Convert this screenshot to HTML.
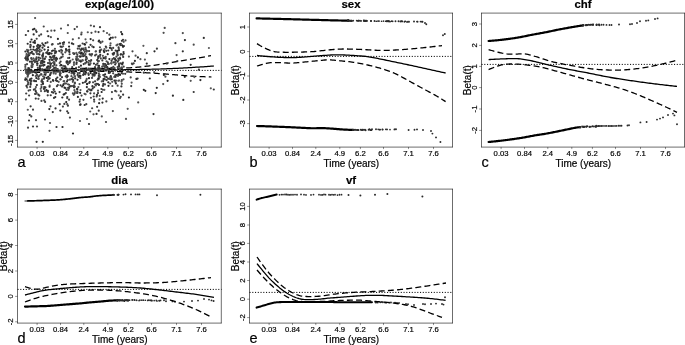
<!DOCTYPE html>
<html lang="en">
<head>
<meta charset="utf-8">
<title>Beta(t) plots</title>
<style>
html,body{margin:0;padding:0;background:#fff;}
body{width:685px;height:345px;overflow:hidden;font-family:"Liberation Sans",sans-serif;}
svg{display:block;transform:translateZ(0);will-change:transform;}
svg text{font-family:"Liberation Sans",sans-serif;fill:#000;stroke:#000;stroke-width:.18px;}
.box{fill:none;stroke:#000;stroke-width:.58;}
.tick{fill:none;stroke:#000;stroke-width:.42;}
.title{font-size:11.4px;font-weight:bold;text-anchor:middle;fill:#000;}
.tl{font-size:7.7px;text-anchor:middle;}
.al{font-size:10px;text-anchor:middle;}
.yl{font-size:10px;}
.lt{font-size:14.5px;text-anchor:start;}
.sol{fill:none;stroke:#000;stroke-width:1.3;stroke-linecap:butt;stroke-linejoin:round;}
.dsh{fill:none;stroke:#000;stroke-width:1.3;stroke-dasharray:6 3.2;stroke-linejoin:round;}
#pa .sol,#pa .dsh{stroke-width:1.25;}
.dot{fill:none;stroke:#000;stroke-width:1;stroke-dasharray:1.1 1.65;}
.band{fill:none;stroke:#000;stroke-linecap:round;stroke-linejoin:round;}
.pt{fill:#2a2a2a;}
</style>
</head>
<body>
<svg width="685" height="345" viewBox="0 0 685 345">
<rect x="0" y="0" width="685" height="345" fill="#fff"/>
<g id="pa">
<path class="dot" d="M17.5 70.4 H221.5"/>
<path class="sol" d="M25 71.4 L26.5 71.33 L28 71.26 L29.5 71.19 L31 71.13 L32.5 71.07 L34 71.01 L35.5 70.95 L37 70.9 L38.5 70.85 L40 70.8 L41.5 70.75 L43 70.71 L44.5 70.67 L46 70.63 L47.5 70.59 L49 70.55 L50.5 70.51 L52 70.47 L53.5 70.44 L55 70.4 L56.5 70.37 L58 70.34 L59.5 70.31 L61 70.28 L62.5 70.25 L64 70.22 L65.5 70.19 L67 70.16 L68.5 70.13 L70 70.11 L71.5 70.08 L73 70.05 L74.5 70.03 L76 70 L77.5 69.98 L79 69.96 L80.5 69.94 L82 69.93 L83.5 69.91 L85 69.9 L86.5 69.89 L88 69.88 L89.5 69.87 L91 69.86 L92.5 69.85 L94 69.84 L95.5 69.83 L97 69.82 L98.5 69.81 L100 69.8 L101.5 69.79 L103 69.78 L104.5 69.77 L106 69.76 L107.5 69.75 L109 69.74 L110.5 69.73 L112 69.72 L113.5 69.71 L115 69.7 L116.5 69.69 L118 69.68 L119.5 69.67 L121 69.66 L122.5 69.65 L124 69.64 L125.5 69.63 L127 69.62 L128.5 69.61 L130 69.6 L131.5 69.59 L133 69.58 L134.5 69.56 L136 69.54 L137.5 69.52 L139 69.5 L140.5 69.47 L142 69.45 L143.5 69.42 L145 69.39 L146.5 69.36 L148 69.32 L149.5 69.29 L151 69.25 L152.5 69.21 L154 69.17 L155.5 69.13 L157 69.09 L158.5 69.05 L160 69 L161.5 68.95 L163 68.9 L164.5 68.85 L166 68.79 L167.5 68.73 L169 68.67 L170.5 68.61 L172 68.54 L173.5 68.47 L175 68.4 L176.5 68.33 L178 68.26 L179.5 68.18 L181 68.1 L182.5 68.02 L184 67.94 L185.5 67.86 L187 67.77 L188.5 67.69 L190 67.6 L191.5 67.51 L193 67.42 L194.5 67.33 L196 67.24 L197.5 67.15 L199 67.05 L200.5 66.95 L202 66.86 L203.5 66.76 L205 66.65 L206.5 66.55 L208 66.44 L209.5 66.34 L211 66.23 L212.5 66.11 L214 66"/>
<path class="dsh" d="M25 69.9 L26.5 69.85 L28 69.8 L29.5 69.75 L31 69.7 L32.5 69.65 L34 69.6 L35.5 69.55 L37 69.5 L38.5 69.45 L40 69.4 L41.5 69.35 L43 69.3 L44.5 69.26 L46 69.21 L47.5 69.16 L49 69.12 L50.5 69.07 L52 69.03 L53.5 68.98 L55 68.94 L56.5 68.9 L58 68.86 L59.5 68.81 L61 68.77 L62.5 68.74 L64 68.7 L65.5 68.67 L67 68.64 L68.5 68.61 L70 68.58 L71.5 68.56 L73 68.54 L74.5 68.52 L76 68.5 L77.5 68.48 L79 68.46 L80.5 68.44 L82 68.43 L83.5 68.41 L85 68.4 L86.5 68.39 L88 68.38 L89.5 68.38 L91 68.38 L92.5 68.39 L94 68.39 L95.5 68.4 L97 68.4 L98.5 68.4 L100 68.4 L101.5 68.39 L103 68.39 L104.5 68.38 L106 68.37 L107.5 68.35 L109 68.34 L110.5 68.32 L112 68.3 L113.5 68.28 L115 68.25 L116.5 68.22 L118 68.19 L119.5 68.16 L121 68.12 L122.5 68.08 L124 68.03 L125.5 67.98 L127 67.92 L128.5 67.86 L130 67.8 L131.5 67.72 L133 67.63 L134.5 67.51 L136 67.38 L137.5 67.24 L139 67.09 L140.5 66.93 L142 66.75 L143.5 66.58 L145 66.4 L146.5 66.22 L148 66.04 L149.5 65.86 L151 65.68 L152.5 65.49 L154 65.29 L155.5 65.09 L157 64.87 L158.5 64.64 L160 64.4 L161.5 64.15 L163 63.9 L164.5 63.64 L166 63.38 L167.5 63.13 L169 62.87 L170.5 62.61 L172 62.36 L173.5 62.1 L175 61.85 L176.5 61.59 L178 61.34 L179.5 61.08 L181 60.83 L182.5 60.58 L184 60.33 L185.5 60.09 L187 59.84 L188.5 59.59 L190 59.34 L191.5 59.09 L193 58.84 L194.5 58.58 L196 58.33 L197.5 58.07 L199 57.82 L200.5 57.56 L202 57.3 L203.5 57.03 L205 56.77 L206.5 56.5 L208 56.24 L209.5 55.97 L211 55.7"/>
<path class="dsh" d="M25 73 L26.5 72.91 L28.01 72.83 L29.51 72.75 L31.02 72.67 L32.52 72.6 L34.02 72.53 L35.53 72.46 L37.03 72.4 L38.54 72.35 L40.04 72.3 L41.54 72.25 L43.05 72.21 L44.55 72.16 L46.06 72.12 L47.56 72.08 L49.06 72.04 L50.57 72 L52.07 71.97 L53.58 71.93 L55.08 71.9 L56.58 71.87 L58.09 71.84 L59.59 71.81 L61.1 71.78 L62.6 71.75 L64.1 71.73 L65.61 71.7 L67.11 71.67 L68.62 71.65 L70.12 71.62 L71.62 71.6 L73.13 71.57 L74.63 71.55 L76.14 71.53 L77.64 71.51 L79.15 71.48 L80.65 71.46 L82.15 71.44 L83.66 71.42 L85.16 71.4 L86.67 71.38 L88.17 71.36 L89.67 71.35 L91.18 71.33 L92.68 71.32 L94.19 71.31 L95.69 71.31 L97.19 71.3 L98.7 71.3 L100.2 71.3 L101.71 71.3 L103.21 71.31 L104.71 71.32 L106.22 71.34 L107.72 71.36 L109.23 71.38 L110.73 71.41 L112.23 71.44 L113.74 71.47 L115.24 71.51 L116.75 71.55 L118.25 71.59 L119.75 71.64 L121.26 71.69 L122.76 71.73 L124.27 71.79 L125.77 71.84 L127.27 71.9 L128.78 71.95 L130.28 72.01 L131.79 72.07 L133.29 72.13 L134.79 72.2 L136.3 72.27 L137.8 72.34 L139.31 72.41 L140.81 72.48 L142.31 72.56 L143.82 72.64 L145.32 72.72 L146.83 72.8 L148.33 72.88 L149.83 72.97 L151.34 73.06 L152.84 73.15 L154.35 73.24 L155.85 73.33 L157.35 73.43 L158.86 73.53 L160.36 73.62 L161.87 73.73 L163.37 73.84 L164.88 73.95 L166.38 74.07 L167.88 74.19 L169.39 74.32 L170.89 74.45 L172.4 74.58 L173.9 74.71 L175.4 74.84 L176.91 74.97 L178.41 75.1 L179.92 75.23 L181.42 75.35 L182.92 75.48 L184.43 75.6 L185.93 75.71 L187.44 75.82 L188.94 75.93 L190.44 76.03 L191.95 76.12 L193.45 76.21 L194.96 76.3 L196.46 76.38 L197.96 76.46 L199.47 76.53 L200.97 76.61 L202.48 76.67 L203.98 76.74 L205.48 76.8 L206.99 76.85 L208.49 76.9 L210 76.95 L211.5 77"/>
<circle cx="85.16" cy="74.35" r="1.1" fill="rgb(61,61,61)"/>
<circle cx="113.25" cy="54.65" r="1.1" fill="rgb(71,71,71)"/>
<circle cx="100.63" cy="69.15" r="1.1" fill="rgb(73,73,73)"/>
<circle cx="45.39" cy="87.43" r="1.1" fill="rgb(54,54,54)"/>
<circle cx="52.65" cy="56.23" r="1.1" fill="rgb(72,72,72)"/>
<circle cx="110.78" cy="79.14" r="1.1" fill="rgb(71,71,71)"/>
<circle cx="25.38" cy="64.97" r="1.1" fill="rgb(74,74,74)"/>
<circle cx="105.35" cy="64.43" r="1.1" fill="rgb(49,49,49)"/>
<circle cx="102.84" cy="55.8" r="1.1" fill="rgb(86,86,86)"/>
<circle cx="69.26" cy="57.82" r="1.1" fill="rgb(39,39,39)"/>
<circle cx="52.93" cy="80.14" r="1.1" fill="rgb(36,36,36)"/>
<circle cx="50.53" cy="67.1" r="1.1" fill="rgb(45,45,45)"/>
<circle cx="48.25" cy="76.83" r="1.1" fill="rgb(38,38,38)"/>
<circle cx="66.97" cy="81.43" r="1.1" fill="rgb(50,50,50)"/>
<circle cx="72.94" cy="72.54" r="1.1" fill="rgb(63,63,63)"/>
<circle cx="77.89" cy="96.93" r="1.1" fill="rgb(44,44,44)"/>
<circle cx="123.53" cy="52.03" r="1.1" fill="rgb(51,51,51)"/>
<circle cx="102.39" cy="102.55" r="1.1" fill="rgb(45,45,45)"/>
<circle cx="84.87" cy="82.27" r="1.1" fill="rgb(82,82,82)"/>
<circle cx="44.44" cy="88.66" r="1.1" fill="rgb(64,64,64)"/>
<circle cx="39.21" cy="35.66" r="1.1" fill="rgb(68,68,68)"/>
<circle cx="83.88" cy="49.95" r="1.1" fill="rgb(59,59,59)"/>
<circle cx="28.61" cy="73.63" r="1.1" fill="rgb(65,65,65)"/>
<circle cx="27.89" cy="75.45" r="1.1" fill="rgb(80,80,80)"/>
<circle cx="73.98" cy="74.68" r="1.1" fill="rgb(89,89,89)"/>
<circle cx="69.09" cy="62.97" r="1.1" fill="rgb(62,62,62)"/>
<circle cx="115.33" cy="70.6" r="1.1" fill="rgb(60,60,60)"/>
<circle cx="85.59" cy="73.47" r="1.1" fill="rgb(64,64,64)"/>
<circle cx="73.91" cy="62.87" r="1.1" fill="rgb(63,63,63)"/>
<circle cx="72.17" cy="78.9" r="1.1" fill="rgb(74,74,74)"/>
<circle cx="47.53" cy="31.24" r="1.1" fill="rgb(47,47,47)"/>
<circle cx="25.89" cy="99.41" r="1.1" fill="rgb(81,81,81)"/>
<circle cx="42.25" cy="69.39" r="1.1" fill="rgb(38,38,38)"/>
<circle cx="92.01" cy="77.9" r="1.1" fill="rgb(67,67,67)"/>
<circle cx="43.04" cy="83.88" r="1.1" fill="rgb(88,88,88)"/>
<circle cx="59.46" cy="51.11" r="1.1" fill="rgb(37,37,37)"/>
<circle cx="25.26" cy="69.42" r="1.1" fill="rgb(83,83,83)"/>
<circle cx="106.26" cy="50.79" r="1.1" fill="rgb(60,60,60)"/>
<circle cx="38.67" cy="50.76" r="1.1" fill="rgb(81,81,81)"/>
<circle cx="49.48" cy="59.79" r="1.1" fill="rgb(36,36,36)"/>
<circle cx="111.49" cy="63.61" r="1.1" fill="rgb(83,83,83)"/>
<circle cx="73.47" cy="71.2" r="1.1" fill="rgb(68,68,68)"/>
<circle cx="108.04" cy="78.83" r="1.1" fill="rgb(72,72,72)"/>
<circle cx="86.66" cy="61.94" r="1.1" fill="rgb(38,38,38)"/>
<circle cx="97.13" cy="106.86" r="1.1" fill="rgb(56,56,56)"/>
<circle cx="32.85" cy="64.26" r="1.1" fill="rgb(64,64,64)"/>
<circle cx="76.64" cy="62.65" r="1.1" fill="rgb(46,46,46)"/>
<circle cx="73.27" cy="72.32" r="1.1" fill="rgb(43,43,43)"/>
<circle cx="110.55" cy="79.35" r="1.1" fill="rgb(71,71,71)"/>
<circle cx="58.65" cy="81.85" r="1.1" fill="rgb(82,82,82)"/>
<circle cx="82.42" cy="60.47" r="1.1" fill="rgb(45,45,45)"/>
<circle cx="29.95" cy="61.67" r="1.1" fill="rgb(40,40,40)"/>
<circle cx="61.25" cy="65.2" r="1.1" fill="rgb(49,49,49)"/>
<circle cx="54.88" cy="50.94" r="1.1" fill="rgb(71,71,71)"/>
<circle cx="38.27" cy="78.91" r="1.1" fill="rgb(62,62,62)"/>
<circle cx="104.84" cy="58.19" r="1.1" fill="rgb(73,73,73)"/>
<circle cx="60.44" cy="70.71" r="1.1" fill="rgb(86,86,86)"/>
<circle cx="121.77" cy="73.14" r="1.1" fill="rgb(50,50,50)"/>
<circle cx="81.59" cy="69.2" r="1.1" fill="rgb(71,71,71)"/>
<circle cx="83.12" cy="69.68" r="1.1" fill="rgb(67,67,67)"/>
<circle cx="86.48" cy="57.9" r="1.1" fill="rgb(82,82,82)"/>
<circle cx="90.42" cy="93.3" r="1.1" fill="rgb(53,53,53)"/>
<circle cx="38.33" cy="94.68" r="1.1" fill="rgb(41,41,41)"/>
<circle cx="66.5" cy="89.77" r="1.1" fill="rgb(49,49,49)"/>
<circle cx="46.77" cy="77.91" r="1.1" fill="rgb(35,35,35)"/>
<circle cx="62.73" cy="54.4" r="1.1" fill="rgb(49,49,49)"/>
<circle cx="33.32" cy="58.46" r="1.1" fill="rgb(81,81,81)"/>
<circle cx="120.63" cy="70.32" r="1.1" fill="rgb(35,35,35)"/>
<circle cx="44.41" cy="64.89" r="1.1" fill="rgb(44,44,44)"/>
<circle cx="89.94" cy="64.72" r="1.1" fill="rgb(72,72,72)"/>
<circle cx="52.67" cy="59.85" r="1.1" fill="rgb(48,48,48)"/>
<circle cx="110.84" cy="37.78" r="1.1" fill="rgb(38,38,38)"/>
<circle cx="88.96" cy="60.73" r="1.1" fill="rgb(63,63,63)"/>
<circle cx="36.54" cy="31.84" r="1.1" fill="rgb(45,45,45)"/>
<circle cx="107.82" cy="69.39" r="1.1" fill="rgb(72,72,72)"/>
<circle cx="118.23" cy="74.93" r="1.1" fill="rgb(39,39,39)"/>
<circle cx="113.95" cy="53.63" r="1.1" fill="rgb(37,37,37)"/>
<circle cx="79.53" cy="84.05" r="1.1" fill="rgb(79,79,79)"/>
<circle cx="37.83" cy="67.95" r="1.1" fill="rgb(68,68,68)"/>
<circle cx="42.26" cy="43.24" r="1.1" fill="rgb(64,64,64)"/>
<circle cx="116.45" cy="56.53" r="1.1" fill="rgb(67,67,67)"/>
<circle cx="77.77" cy="48.54" r="1.1" fill="rgb(60,60,60)"/>
<circle cx="41.13" cy="34.39" r="1.1" fill="rgb(66,66,66)"/>
<circle cx="111.88" cy="49.98" r="1.1" fill="rgb(67,67,67)"/>
<circle cx="86.85" cy="87.07" r="1.1" fill="rgb(41,41,41)"/>
<circle cx="79.53" cy="48.68" r="1.1" fill="rgb(79,79,79)"/>
<circle cx="60.13" cy="73.45" r="1.1" fill="rgb(71,71,71)"/>
<circle cx="63.57" cy="44.11" r="1.1" fill="rgb(69,69,69)"/>
<circle cx="46.76" cy="68.34" r="1.1" fill="rgb(89,89,89)"/>
<circle cx="28.1" cy="59.36" r="1.1" fill="rgb(63,63,63)"/>
<circle cx="111.06" cy="63.13" r="1.1" fill="rgb(84,84,84)"/>
<circle cx="69.24" cy="72.25" r="1.1" fill="rgb(52,52,52)"/>
<circle cx="77.29" cy="89.47" r="1.1" fill="rgb(39,39,39)"/>
<circle cx="54.8" cy="91.5" r="1.1" fill="rgb(63,63,63)"/>
<circle cx="98.12" cy="65.8" r="1.1" fill="rgb(81,81,81)"/>
<circle cx="27" cy="49.89" r="1.1" fill="rgb(89,89,89)"/>
<circle cx="59.72" cy="72.46" r="1.1" fill="rgb(71,71,71)"/>
<circle cx="27.44" cy="60.43" r="1.1" fill="rgb(66,66,66)"/>
<circle cx="35.73" cy="76.06" r="1.1" fill="rgb(83,83,83)"/>
<circle cx="120.56" cy="63.37" r="1.1" fill="rgb(61,61,61)"/>
<circle cx="88.5" cy="89.24" r="1.1" fill="rgb(81,81,81)"/>
<circle cx="65.29" cy="52.31" r="1.1" fill="rgb(83,83,83)"/>
<circle cx="74.88" cy="82.66" r="1.1" fill="rgb(80,80,80)"/>
<circle cx="110.71" cy="76.78" r="1.1" fill="rgb(37,37,37)"/>
<circle cx="56.96" cy="58.91" r="1.1" fill="rgb(48,48,48)"/>
<circle cx="81.62" cy="52.51" r="1.1" fill="rgb(38,38,38)"/>
<circle cx="91.16" cy="60.14" r="1.1" fill="rgb(60,60,60)"/>
<circle cx="58.07" cy="43.99" r="1.1" fill="rgb(78,78,78)"/>
<circle cx="74.41" cy="90.14" r="1.1" fill="rgb(85,85,85)"/>
<circle cx="99.55" cy="99.39" r="1.1" fill="rgb(86,86,86)"/>
<circle cx="114.5" cy="80.6" r="1.1" fill="rgb(38,38,38)"/>
<circle cx="38.35" cy="47.92" r="1.1" fill="rgb(37,37,37)"/>
<circle cx="117.03" cy="51.34" r="1.1" fill="rgb(64,64,64)"/>
<circle cx="25.37" cy="58.13" r="1.1" fill="rgb(36,36,36)"/>
<circle cx="98.29" cy="78.56" r="1.1" fill="rgb(79,79,79)"/>
<circle cx="104.24" cy="52.09" r="1.1" fill="rgb(35,35,35)"/>
<circle cx="37.02" cy="53.99" r="1.1" fill="rgb(63,63,63)"/>
<circle cx="64.36" cy="103.93" r="1.1" fill="rgb(66,66,66)"/>
<circle cx="104.73" cy="76.54" r="1.1" fill="rgb(58,58,58)"/>
<circle cx="26.09" cy="58.58" r="1.1" fill="rgb(42,42,42)"/>
<circle cx="85.51" cy="47.79" r="1.1" fill="rgb(79,79,79)"/>
<circle cx="102.42" cy="41.53" r="1.1" fill="rgb(65,65,65)"/>
<circle cx="73.79" cy="53.86" r="1.1" fill="rgb(76,76,76)"/>
<circle cx="95.49" cy="31.66" r="1.1" fill="rgb(71,71,71)"/>
<circle cx="45.5" cy="74.87" r="1.1" fill="rgb(63,63,63)"/>
<circle cx="42.84" cy="54.86" r="1.1" fill="rgb(35,35,35)"/>
<circle cx="58.83" cy="70.98" r="1.1" fill="rgb(59,59,59)"/>
<circle cx="41.02" cy="91.09" r="1.1" fill="rgb(82,82,82)"/>
<circle cx="57.15" cy="81.01" r="1.1" fill="rgb(46,46,46)"/>
<circle cx="118.56" cy="47.31" r="1.1" fill="rgb(48,48,48)"/>
<circle cx="79.9" cy="76.6" r="1.1" fill="rgb(84,84,84)"/>
<circle cx="56.56" cy="80.79" r="1.1" fill="rgb(65,65,65)"/>
<circle cx="49.86" cy="53.18" r="1.1" fill="rgb(68,68,68)"/>
<circle cx="118.97" cy="50.18" r="1.1" fill="rgb(54,54,54)"/>
<circle cx="66.91" cy="62.41" r="1.1" fill="rgb(49,49,49)"/>
<circle cx="121.94" cy="40.78" r="1.1" fill="rgb(53,53,53)"/>
<circle cx="74.05" cy="85.33" r="1.1" fill="rgb(88,88,88)"/>
<circle cx="74.62" cy="29.12" r="1.1" fill="rgb(57,57,57)"/>
<circle cx="113.18" cy="47.95" r="1.1" fill="rgb(65,65,65)"/>
<circle cx="97.23" cy="60.09" r="1.1" fill="rgb(35,35,35)"/>
<circle cx="80.64" cy="60.71" r="1.1" fill="rgb(82,82,82)"/>
<circle cx="65.13" cy="66.41" r="1.1" fill="rgb(58,58,58)"/>
<circle cx="111.27" cy="67.94" r="1.1" fill="rgb(76,76,76)"/>
<circle cx="63.64" cy="84.15" r="1.1" fill="rgb(49,49,49)"/>
<circle cx="115.91" cy="80.48" r="1.1" fill="rgb(70,70,70)"/>
<circle cx="30.79" cy="49.49" r="1.1" fill="rgb(54,54,54)"/>
<circle cx="65.47" cy="88" r="1.1" fill="rgb(52,52,52)"/>
<circle cx="74.45" cy="53.64" r="1.1" fill="rgb(43,43,43)"/>
<circle cx="118.86" cy="65.92" r="1.1" fill="rgb(73,73,73)"/>
<circle cx="47.87" cy="91.97" r="1.1" fill="rgb(53,53,53)"/>
<circle cx="103.77" cy="50.78" r="1.1" fill="rgb(41,41,41)"/>
<circle cx="90.42" cy="54.71" r="1.1" fill="rgb(73,73,73)"/>
<circle cx="94.59" cy="75.49" r="1.1" fill="rgb(73,73,73)"/>
<circle cx="85.63" cy="94.28" r="1.1" fill="rgb(89,89,89)"/>
<circle cx="121.02" cy="54.14" r="1.1" fill="rgb(83,83,83)"/>
<circle cx="55.83" cy="93.58" r="1.1" fill="rgb(45,45,45)"/>
<circle cx="62.31" cy="97.48" r="1.1" fill="rgb(37,37,37)"/>
<circle cx="43.25" cy="61.68" r="1.1" fill="rgb(82,82,82)"/>
<circle cx="29.2" cy="68.38" r="1.1" fill="rgb(88,88,88)"/>
<circle cx="44.21" cy="100.38" r="1.1" fill="rgb(68,68,68)"/>
<circle cx="115.15" cy="75.37" r="1.1" fill="rgb(68,68,68)"/>
<circle cx="107.31" cy="67.21" r="1.1" fill="rgb(40,40,40)"/>
<circle cx="34.76" cy="60.98" r="1.1" fill="rgb(65,65,65)"/>
<circle cx="82.99" cy="56.15" r="1.1" fill="rgb(35,35,35)"/>
<circle cx="70.39" cy="60.92" r="1.1" fill="rgb(77,77,77)"/>
<circle cx="82.07" cy="56.01" r="1.1" fill="rgb(83,83,83)"/>
<circle cx="88.66" cy="74.8" r="1.1" fill="rgb(36,36,36)"/>
<circle cx="53.28" cy="80.83" r="1.1" fill="rgb(47,47,47)"/>
<circle cx="119.95" cy="57.6" r="1.1" fill="rgb(89,89,89)"/>
<circle cx="69.05" cy="46.57" r="1.1" fill="rgb(40,40,40)"/>
<circle cx="85.47" cy="63.28" r="1.1" fill="rgb(78,78,78)"/>
<circle cx="86.2" cy="51.04" r="1.1" fill="rgb(71,71,71)"/>
<circle cx="41.45" cy="84.75" r="1.1" fill="rgb(70,70,70)"/>
<circle cx="30.18" cy="79.11" r="1.1" fill="rgb(73,73,73)"/>
<circle cx="63.63" cy="94.59" r="1.1" fill="rgb(50,50,50)"/>
<circle cx="99.43" cy="71.32" r="1.1" fill="rgb(84,84,84)"/>
<circle cx="104.72" cy="69.16" r="1.1" fill="rgb(61,61,61)"/>
<circle cx="95.92" cy="64.86" r="1.1" fill="rgb(62,62,62)"/>
<circle cx="34.83" cy="62.15" r="1.1" fill="rgb(76,76,76)"/>
<circle cx="114.93" cy="59.54" r="1.1" fill="rgb(52,52,52)"/>
<circle cx="103.36" cy="75.01" r="1.1" fill="rgb(37,37,37)"/>
<circle cx="111.21" cy="48.28" r="1.1" fill="rgb(52,52,52)"/>
<circle cx="74.83" cy="83.44" r="1.1" fill="rgb(70,70,70)"/>
<circle cx="115.17" cy="64.49" r="1.1" fill="rgb(46,46,46)"/>
<circle cx="28.84" cy="53.14" r="1.1" fill="rgb(77,77,77)"/>
<circle cx="27.43" cy="56.91" r="1.1" fill="rgb(69,69,69)"/>
<circle cx="26.58" cy="54.18" r="1.1" fill="rgb(71,71,71)"/>
<circle cx="48.04" cy="90.88" r="1.1" fill="rgb(86,86,86)"/>
<circle cx="47.64" cy="53.59" r="1.1" fill="rgb(48,48,48)"/>
<circle cx="41.79" cy="80.56" r="1.1" fill="rgb(39,39,39)"/>
<circle cx="79.26" cy="52.67" r="1.1" fill="rgb(53,53,53)"/>
<circle cx="28.18" cy="31.05" r="1.1" fill="rgb(56,56,56)"/>
<circle cx="81.63" cy="53.4" r="1.1" fill="rgb(35,35,35)"/>
<circle cx="39.76" cy="51.85" r="1.1" fill="rgb(54,54,54)"/>
<circle cx="90.56" cy="63.42" r="1.1" fill="rgb(89,89,89)"/>
<circle cx="26.66" cy="79.36" r="1.1" fill="rgb(39,39,39)"/>
<circle cx="53.66" cy="73.39" r="1.1" fill="rgb(86,86,86)"/>
<circle cx="117.54" cy="44.6" r="1.1" fill="rgb(67,67,67)"/>
<circle cx="76.36" cy="52.95" r="1.1" fill="rgb(86,86,86)"/>
<circle cx="104.35" cy="89.79" r="1.1" fill="rgb(89,89,89)"/>
<circle cx="88.53" cy="68.62" r="1.1" fill="rgb(67,67,67)"/>
<circle cx="83.7" cy="64.06" r="1.1" fill="rgb(50,50,50)"/>
<circle cx="42.15" cy="79.31" r="1.1" fill="rgb(78,78,78)"/>
<circle cx="80" cy="99.56" r="1.1" fill="rgb(74,74,74)"/>
<circle cx="28.24" cy="82.8" r="1.1" fill="rgb(66,66,66)"/>
<circle cx="103.32" cy="66.02" r="1.1" fill="rgb(84,84,84)"/>
<circle cx="119.81" cy="69.14" r="1.1" fill="rgb(84,84,84)"/>
<circle cx="108.75" cy="72.95" r="1.1" fill="rgb(49,49,49)"/>
<circle cx="29.2" cy="55.12" r="1.1" fill="rgb(42,42,42)"/>
<circle cx="56.42" cy="68.94" r="1.1" fill="rgb(85,85,85)"/>
<circle cx="54.39" cy="64.76" r="1.1" fill="rgb(36,36,36)"/>
<circle cx="34.79" cy="50.27" r="1.1" fill="rgb(76,76,76)"/>
<circle cx="85.32" cy="63.11" r="1.1" fill="rgb(75,75,75)"/>
<circle cx="102.88" cy="89.73" r="1.1" fill="rgb(70,70,70)"/>
<circle cx="53.97" cy="97.95" r="1.1" fill="rgb(61,61,61)"/>
<circle cx="109.67" cy="72.68" r="1.1" fill="rgb(45,45,45)"/>
<circle cx="102.85" cy="85.81" r="1.1" fill="rgb(65,65,65)"/>
<circle cx="36.31" cy="61.62" r="1.1" fill="rgb(50,50,50)"/>
<circle cx="99.72" cy="95.87" r="1.1" fill="rgb(82,82,82)"/>
<circle cx="111.73" cy="79.18" r="1.1" fill="rgb(40,40,40)"/>
<circle cx="42.72" cy="56.89" r="1.1" fill="rgb(55,55,55)"/>
<circle cx="79.93" cy="52.09" r="1.1" fill="rgb(84,84,84)"/>
<circle cx="86.56" cy="58.47" r="1.1" fill="rgb(69,69,69)"/>
<circle cx="83.56" cy="71.33" r="1.1" fill="rgb(79,79,79)"/>
<circle cx="33.28" cy="71.78" r="1.1" fill="rgb(42,42,42)"/>
<circle cx="88.85" cy="64.66" r="1.1" fill="rgb(39,39,39)"/>
<circle cx="85.86" cy="49.28" r="1.1" fill="rgb(62,62,62)"/>
<circle cx="105.62" cy="58.59" r="1.1" fill="rgb(64,64,64)"/>
<circle cx="103.51" cy="64.46" r="1.1" fill="rgb(80,80,80)"/>
<circle cx="55.29" cy="97.07" r="1.1" fill="rgb(46,46,46)"/>
<circle cx="95.1" cy="55.4" r="1.1" fill="rgb(66,66,66)"/>
<circle cx="110.13" cy="83.49" r="1.1" fill="rgb(77,77,77)"/>
<circle cx="112.8" cy="37.63" r="1.1" fill="rgb(60,60,60)"/>
<circle cx="39.33" cy="47.3" r="1.1" fill="rgb(66,66,66)"/>
<circle cx="27.13" cy="87.46" r="1.1" fill="rgb(86,86,86)"/>
<circle cx="87.79" cy="32.27" r="1.1" fill="rgb(86,86,86)"/>
<circle cx="44.38" cy="59.1" r="1.1" fill="rgb(86,86,86)"/>
<circle cx="78.92" cy="67.18" r="1.1" fill="rgb(74,74,74)"/>
<circle cx="118.22" cy="58.57" r="1.1" fill="rgb(67,67,67)"/>
<circle cx="60.43" cy="73.45" r="1.1" fill="rgb(40,40,40)"/>
<circle cx="48.04" cy="63.11" r="1.1" fill="rgb(54,54,54)"/>
<circle cx="68.12" cy="87.91" r="1.1" fill="rgb(55,55,55)"/>
<circle cx="88.45" cy="62.81" r="1.1" fill="rgb(77,77,77)"/>
<circle cx="33.72" cy="54.2" r="1.1" fill="rgb(66,66,66)"/>
<circle cx="60.56" cy="85.35" r="1.1" fill="rgb(47,47,47)"/>
<circle cx="36.73" cy="51.6" r="1.1" fill="rgb(85,85,85)"/>
<circle cx="88.98" cy="78.14" r="1.1" fill="rgb(39,39,39)"/>
<circle cx="106.31" cy="67.29" r="1.1" fill="rgb(55,55,55)"/>
<circle cx="60.19" cy="73.29" r="1.1" fill="rgb(67,67,67)"/>
<circle cx="59.68" cy="104.14" r="1.1" fill="rgb(45,45,45)"/>
<circle cx="76.47" cy="56.8" r="1.1" fill="rgb(41,41,41)"/>
<circle cx="44.42" cy="77.4" r="1.1" fill="rgb(50,50,50)"/>
<circle cx="47.52" cy="81.02" r="1.1" fill="rgb(47,47,47)"/>
<circle cx="55.55" cy="108.46" r="1.1" fill="rgb(48,48,48)"/>
<circle cx="68.21" cy="113.02" r="1.1" fill="rgb(52,52,52)"/>
<circle cx="31.94" cy="61.89" r="1.1" fill="rgb(43,43,43)"/>
<circle cx="98.26" cy="61.48" r="1.1" fill="rgb(62,62,62)"/>
<circle cx="80.48" cy="75.96" r="1.1" fill="rgb(53,53,53)"/>
<circle cx="52.6" cy="44.19" r="1.1" fill="rgb(58,58,58)"/>
<circle cx="31.59" cy="67.04" r="1.1" fill="rgb(48,48,48)"/>
<circle cx="99.34" cy="56.31" r="1.1" fill="rgb(74,74,74)"/>
<circle cx="36.49" cy="58.65" r="1.1" fill="rgb(63,63,63)"/>
<circle cx="36.69" cy="38.75" r="1.1" fill="rgb(65,65,65)"/>
<circle cx="36.45" cy="51.09" r="1.1" fill="rgb(84,84,84)"/>
<circle cx="31.92" cy="63.7" r="1.1" fill="rgb(75,75,75)"/>
<circle cx="114.21" cy="76.88" r="1.1" fill="rgb(87,87,87)"/>
<circle cx="49.64" cy="78.36" r="1.1" fill="rgb(37,37,37)"/>
<circle cx="53.26" cy="62.84" r="1.1" fill="rgb(43,43,43)"/>
<circle cx="106.55" cy="61.26" r="1.1" fill="rgb(79,79,79)"/>
<circle cx="84.64" cy="51.96" r="1.1" fill="rgb(66,66,66)"/>
<circle cx="41.75" cy="69.83" r="1.1" fill="rgb(89,89,89)"/>
<circle cx="65.95" cy="83.54" r="1.1" fill="rgb(72,72,72)"/>
<circle cx="111.86" cy="98.91" r="1.1" fill="rgb(80,80,80)"/>
<circle cx="93.95" cy="63.53" r="1.1" fill="rgb(43,43,43)"/>
<circle cx="33.33" cy="42.29" r="1.1" fill="rgb(39,39,39)"/>
<circle cx="95.64" cy="51.52" r="1.1" fill="rgb(64,64,64)"/>
<circle cx="100.71" cy="42.86" r="1.1" fill="rgb(64,64,64)"/>
<circle cx="105.82" cy="46.64" r="1.1" fill="rgb(46,46,46)"/>
<circle cx="90.19" cy="111.49" r="1.1" fill="rgb(83,83,83)"/>
<circle cx="59.58" cy="92.08" r="1.1" fill="rgb(55,55,55)"/>
<circle cx="30.39" cy="41.96" r="1.1" fill="rgb(58,58,58)"/>
<circle cx="74.38" cy="73.48" r="1.1" fill="rgb(52,52,52)"/>
<circle cx="98.75" cy="110.69" r="1.1" fill="rgb(62,62,62)"/>
<circle cx="42.11" cy="81.52" r="1.1" fill="rgb(79,79,79)"/>
<circle cx="49.35" cy="54.2" r="1.1" fill="rgb(59,59,59)"/>
<circle cx="76.13" cy="59.11" r="1.1" fill="rgb(47,47,47)"/>
<circle cx="97.81" cy="68.13" r="1.1" fill="rgb(71,71,71)"/>
<circle cx="113.18" cy="73.28" r="1.1" fill="rgb(64,64,64)"/>
<circle cx="35.99" cy="81.14" r="1.1" fill="rgb(45,45,45)"/>
<circle cx="41.48" cy="81.58" r="1.1" fill="rgb(67,67,67)"/>
<circle cx="103.1" cy="81.19" r="1.1" fill="rgb(47,47,47)"/>
<circle cx="87.15" cy="83.75" r="1.1" fill="rgb(53,53,53)"/>
<circle cx="94.99" cy="73.59" r="1.1" fill="rgb(42,42,42)"/>
<circle cx="123.66" cy="41.8" r="1.1" fill="rgb(86,86,86)"/>
<circle cx="117.63" cy="85.64" r="1.1" fill="rgb(74,74,74)"/>
<circle cx="107.61" cy="68.55" r="1.1" fill="rgb(53,53,53)"/>
<circle cx="100.78" cy="58.44" r="1.1" fill="rgb(67,67,67)"/>
<circle cx="61.99" cy="77.21" r="1.1" fill="rgb(52,52,52)"/>
<circle cx="86.81" cy="58.78" r="1.1" fill="rgb(87,87,87)"/>
<circle cx="41.5" cy="50.58" r="1.1" fill="rgb(73,73,73)"/>
<circle cx="98.96" cy="84.94" r="1.1" fill="rgb(37,37,37)"/>
<circle cx="98.77" cy="73.66" r="1.1" fill="rgb(61,61,61)"/>
<circle cx="95.02" cy="67.18" r="1.1" fill="rgb(57,57,57)"/>
<circle cx="66.95" cy="77.44" r="1.1" fill="rgb(74,74,74)"/>
<circle cx="60.32" cy="79.41" r="1.1" fill="rgb(88,88,88)"/>
<circle cx="64.45" cy="94.14" r="1.1" fill="rgb(43,43,43)"/>
<circle cx="27.69" cy="43.76" r="1.1" fill="rgb(43,43,43)"/>
<circle cx="107.74" cy="54.2" r="1.1" fill="rgb(43,43,43)"/>
<circle cx="76.76" cy="57.38" r="1.1" fill="rgb(86,86,86)"/>
<circle cx="61.24" cy="49.73" r="1.1" fill="rgb(75,75,75)"/>
<circle cx="77.33" cy="91.58" r="1.1" fill="rgb(60,60,60)"/>
<circle cx="95.06" cy="81.29" r="1.1" fill="rgb(56,56,56)"/>
<circle cx="60.64" cy="79.27" r="1.1" fill="rgb(67,67,67)"/>
<circle cx="106.32" cy="47.54" r="1.1" fill="rgb(82,82,82)"/>
<circle cx="61.23" cy="57.45" r="1.1" fill="rgb(38,38,38)"/>
<circle cx="37.11" cy="46.12" r="1.1" fill="rgb(47,47,47)"/>
<circle cx="99.05" cy="67.45" r="1.1" fill="rgb(70,70,70)"/>
<circle cx="123.26" cy="70.17" r="1.1" fill="rgb(48,48,48)"/>
<circle cx="38.06" cy="53.78" r="1.1" fill="rgb(88,88,88)"/>
<circle cx="94.14" cy="75.46" r="1.1" fill="rgb(82,82,82)"/>
<circle cx="105.77" cy="56.93" r="1.1" fill="rgb(79,79,79)"/>
<circle cx="115.69" cy="50.62" r="1.1" fill="rgb(54,54,54)"/>
<circle cx="35.77" cy="91.21" r="1.1" fill="rgb(39,39,39)"/>
<circle cx="32.88" cy="75.18" r="1.1" fill="rgb(41,41,41)"/>
<circle cx="122.73" cy="54.81" r="1.1" fill="rgb(65,65,65)"/>
<circle cx="35.16" cy="93.95" r="1.1" fill="rgb(47,47,47)"/>
<circle cx="40.78" cy="62.64" r="1.1" fill="rgb(76,76,76)"/>
<circle cx="80.06" cy="104.95" r="1.1" fill="rgb(77,77,77)"/>
<circle cx="67.09" cy="75.25" r="1.1" fill="rgb(47,47,47)"/>
<circle cx="98.02" cy="84.07" r="1.1" fill="rgb(49,49,49)"/>
<circle cx="42.08" cy="63.24" r="1.1" fill="rgb(86,86,86)"/>
<circle cx="115.04" cy="62.16" r="1.1" fill="rgb(65,65,65)"/>
<circle cx="44.62" cy="74.46" r="1.1" fill="rgb(38,38,38)"/>
<circle cx="99.95" cy="76.96" r="1.1" fill="rgb(80,80,80)"/>
<circle cx="30.69" cy="82.37" r="1.1" fill="rgb(80,80,80)"/>
<circle cx="69.81" cy="68.77" r="1.1" fill="rgb(68,68,68)"/>
<circle cx="27.62" cy="55.29" r="1.1" fill="rgb(47,47,47)"/>
<circle cx="53.98" cy="56.2" r="1.1" fill="rgb(76,76,76)"/>
<circle cx="53.83" cy="71.39" r="1.1" fill="rgb(57,57,57)"/>
<circle cx="94.86" cy="72.42" r="1.1" fill="rgb(88,88,88)"/>
<circle cx="67.97" cy="84.27" r="1.1" fill="rgb(82,82,82)"/>
<circle cx="29.73" cy="70.07" r="1.1" fill="rgb(51,51,51)"/>
<circle cx="123.51" cy="79.37" r="1.1" fill="rgb(83,83,83)"/>
<circle cx="112.36" cy="85.99" r="1.1" fill="rgb(83,83,83)"/>
<circle cx="115.24" cy="90.97" r="1.1" fill="rgb(48,48,48)"/>
<circle cx="47.44" cy="42.46" r="1.1" fill="rgb(65,65,65)"/>
<circle cx="61.9" cy="46.9" r="1.1" fill="rgb(74,74,74)"/>
<circle cx="45.58" cy="43.15" r="1.1" fill="rgb(46,46,46)"/>
<circle cx="35.91" cy="87.08" r="1.1" fill="rgb(81,81,81)"/>
<circle cx="27.66" cy="51.71" r="1.1" fill="rgb(42,42,42)"/>
<circle cx="72.82" cy="81.86" r="1.1" fill="rgb(74,74,74)"/>
<circle cx="35.75" cy="98.54" r="1.1" fill="rgb(53,53,53)"/>
<circle cx="40.73" cy="88.87" r="1.1" fill="rgb(87,87,87)"/>
<circle cx="109.42" cy="78.54" r="1.1" fill="rgb(42,42,42)"/>
<circle cx="70.9" cy="86.16" r="1.1" fill="rgb(53,53,53)"/>
<circle cx="41.43" cy="61.1" r="1.1" fill="rgb(77,77,77)"/>
<circle cx="89.74" cy="89.53" r="1.1" fill="rgb(56,56,56)"/>
<circle cx="49.31" cy="66.54" r="1.1" fill="rgb(65,65,65)"/>
<circle cx="75.2" cy="78.45" r="1.1" fill="rgb(50,50,50)"/>
<circle cx="50.97" cy="63.53" r="1.1" fill="rgb(37,37,37)"/>
<circle cx="74.11" cy="87.34" r="1.1" fill="rgb(35,35,35)"/>
<circle cx="85.52" cy="39.32" r="1.1" fill="rgb(83,83,83)"/>
<circle cx="76.14" cy="67.75" r="1.1" fill="rgb(79,79,79)"/>
<circle cx="62.05" cy="50.85" r="1.1" fill="rgb(67,67,67)"/>
<circle cx="102.2" cy="66.71" r="1.1" fill="rgb(72,72,72)"/>
<circle cx="110.77" cy="76.18" r="1.1" fill="rgb(59,59,59)"/>
<circle cx="41.02" cy="63.16" r="1.1" fill="rgb(64,64,64)"/>
<circle cx="36.97" cy="75.21" r="1.1" fill="rgb(42,42,42)"/>
<circle cx="34.83" cy="40.95" r="1.1" fill="rgb(40,40,40)"/>
<circle cx="121.86" cy="80.05" r="1.1" fill="rgb(60,60,60)"/>
<circle cx="117.88" cy="55.25" r="1.1" fill="rgb(89,89,89)"/>
<circle cx="45.91" cy="73.02" r="1.1" fill="rgb(85,85,85)"/>
<circle cx="120.84" cy="91.28" r="1.1" fill="rgb(64,64,64)"/>
<circle cx="43.72" cy="26.51" r="1.1" fill="rgb(67,67,67)"/>
<circle cx="73.14" cy="53.04" r="1.1" fill="rgb(80,80,80)"/>
<circle cx="72.22" cy="67.2" r="1.1" fill="rgb(60,60,60)"/>
<circle cx="28.31" cy="68.17" r="1.1" fill="rgb(55,55,55)"/>
<circle cx="54.13" cy="67.74" r="1.1" fill="rgb(68,68,68)"/>
<circle cx="82.6" cy="43.52" r="1.1" fill="rgb(63,63,63)"/>
<circle cx="30.59" cy="84.75" r="1.1" fill="rgb(65,65,65)"/>
<circle cx="46.48" cy="90.2" r="1.1" fill="rgb(36,36,36)"/>
<circle cx="68.97" cy="88.51" r="1.1" fill="rgb(69,69,69)"/>
<circle cx="111.54" cy="60.81" r="1.1" fill="rgb(56,56,56)"/>
<circle cx="99.11" cy="40.52" r="1.1" fill="rgb(45,45,45)"/>
<circle cx="106.15" cy="76.81" r="1.1" fill="rgb(78,78,78)"/>
<circle cx="99.12" cy="103.18" r="1.1" fill="rgb(43,43,43)"/>
<circle cx="93.63" cy="74.4" r="1.1" fill="rgb(45,45,45)"/>
<circle cx="108.3" cy="82.32" r="1.1" fill="rgb(35,35,35)"/>
<circle cx="90.93" cy="97.76" r="1.1" fill="rgb(75,75,75)"/>
<circle cx="96.5" cy="70.27" r="1.1" fill="rgb(80,80,80)"/>
<circle cx="52.79" cy="112.06" r="1.1" fill="rgb(56,56,56)"/>
<circle cx="39.91" cy="65.78" r="1.1" fill="rgb(35,35,35)"/>
<circle cx="98.65" cy="60.95" r="1.1" fill="rgb(60,60,60)"/>
<circle cx="39.74" cy="68.04" r="1.1" fill="rgb(49,49,49)"/>
<circle cx="115.57" cy="76.8" r="1.1" fill="rgb(47,47,47)"/>
<circle cx="82.27" cy="70.03" r="1.1" fill="rgb(67,67,67)"/>
<circle cx="55.51" cy="69.61" r="1.1" fill="rgb(74,74,74)"/>
<circle cx="117.36" cy="52.96" r="1.1" fill="rgb(62,62,62)"/>
<circle cx="38.73" cy="45.3" r="1.1" fill="rgb(53,53,53)"/>
<circle cx="73.94" cy="64.89" r="1.1" fill="rgb(84,84,84)"/>
<circle cx="32.85" cy="53.7" r="1.1" fill="rgb(64,64,64)"/>
<circle cx="120.38" cy="45.04" r="1.1" fill="rgb(46,46,46)"/>
<circle cx="80.1" cy="45.64" r="1.1" fill="rgb(79,79,79)"/>
<circle cx="103.53" cy="79.18" r="1.1" fill="rgb(41,41,41)"/>
<circle cx="50.87" cy="37.14" r="1.1" fill="rgb(82,82,82)"/>
<circle cx="103.33" cy="63.75" r="1.1" fill="rgb(43,43,43)"/>
<circle cx="93.12" cy="40.29" r="1.1" fill="rgb(66,66,66)"/>
<circle cx="87.06" cy="91.28" r="1.1" fill="rgb(62,62,62)"/>
<circle cx="118.82" cy="95.34" r="1.1" fill="rgb(87,87,87)"/>
<circle cx="65.82" cy="93.1" r="1.1" fill="rgb(51,51,51)"/>
<circle cx="63.98" cy="42.29" r="1.1" fill="rgb(40,40,40)"/>
<circle cx="92.02" cy="54.15" r="1.1" fill="rgb(60,60,60)"/>
<circle cx="106.78" cy="77.23" r="1.1" fill="rgb(52,52,52)"/>
<circle cx="56.07" cy="60.86" r="1.1" fill="rgb(72,72,72)"/>
<circle cx="89.72" cy="82.11" r="1.1" fill="rgb(38,38,38)"/>
<circle cx="43.84" cy="88.78" r="1.1" fill="rgb(52,52,52)"/>
<circle cx="77.7" cy="59.09" r="1.1" fill="rgb(84,84,84)"/>
<circle cx="99.96" cy="47.24" r="1.1" fill="rgb(71,71,71)"/>
<circle cx="30.49" cy="44.9" r="1.1" fill="rgb(41,41,41)"/>
<circle cx="95.7" cy="68.87" r="1.1" fill="rgb(36,36,36)"/>
<circle cx="26.19" cy="93.49" r="1.1" fill="rgb(64,64,64)"/>
<circle cx="119.63" cy="44.11" r="1.1" fill="rgb(65,65,65)"/>
<circle cx="69.34" cy="49.71" r="1.1" fill="rgb(45,45,45)"/>
<circle cx="63.38" cy="71.75" r="1.1" fill="rgb(84,84,84)"/>
<circle cx="94.93" cy="72.37" r="1.1" fill="rgb(36,36,36)"/>
<circle cx="74.83" cy="76.42" r="1.1" fill="rgb(86,86,86)"/>
<circle cx="96.01" cy="73.02" r="1.1" fill="rgb(35,35,35)"/>
<circle cx="32.24" cy="72.29" r="1.1" fill="rgb(66,66,66)"/>
<circle cx="78.83" cy="38.15" r="1.1" fill="rgb(88,88,88)"/>
<circle cx="78.35" cy="59.48" r="1.1" fill="rgb(89,89,89)"/>
<circle cx="116.89" cy="70.02" r="1.1" fill="rgb(87,87,87)"/>
<circle cx="28.23" cy="55.69" r="1.1" fill="rgb(47,47,47)"/>
<circle cx="67.75" cy="32.99" r="1.1" fill="rgb(74,74,74)"/>
<circle cx="85.77" cy="59.9" r="1.1" fill="rgb(51,51,51)"/>
<circle cx="77.61" cy="74.91" r="1.1" fill="rgb(52,52,52)"/>
<circle cx="31.28" cy="116.45" r="1.1" fill="rgb(59,59,59)"/>
<circle cx="81.92" cy="48.57" r="1.1" fill="rgb(58,58,58)"/>
<circle cx="45.1" cy="101.89" r="1.1" fill="rgb(62,62,62)"/>
<circle cx="42.55" cy="47.66" r="1.1" fill="rgb(40,40,40)"/>
<circle cx="111.32" cy="77.88" r="1.1" fill="rgb(80,80,80)"/>
<circle cx="42.77" cy="81.9" r="1.1" fill="rgb(54,54,54)"/>
<circle cx="67.9" cy="105.69" r="1.1" fill="rgb(59,59,59)"/>
<circle cx="98.01" cy="90.69" r="1.1" fill="rgb(77,77,77)"/>
<circle cx="93.58" cy="47.16" r="1.1" fill="rgb(37,37,37)"/>
<circle cx="77.88" cy="73.09" r="1.1" fill="rgb(68,68,68)"/>
<circle cx="103.88" cy="75.13" r="1.1" fill="rgb(73,73,73)"/>
<circle cx="69.05" cy="42.59" r="1.1" fill="rgb(81,81,81)"/>
<circle cx="84.68" cy="105.02" r="1.1" fill="rgb(47,47,47)"/>
<circle cx="105.11" cy="74.27" r="1.1" fill="rgb(43,43,43)"/>
<circle cx="90.58" cy="90.36" r="1.1" fill="rgb(83,83,83)"/>
<circle cx="86.87" cy="50.78" r="1.1" fill="rgb(63,63,63)"/>
<circle cx="63.09" cy="85.28" r="1.1" fill="rgb(46,46,46)"/>
<circle cx="78.37" cy="87.05" r="1.1" fill="rgb(80,80,80)"/>
<circle cx="62.09" cy="86.54" r="1.1" fill="rgb(51,51,51)"/>
<circle cx="97.39" cy="63.69" r="1.1" fill="rgb(50,50,50)"/>
<circle cx="60.54" cy="46.56" r="1.1" fill="rgb(42,42,42)"/>
<circle cx="69.13" cy="84.81" r="1.1" fill="rgb(72,72,72)"/>
<circle cx="98.54" cy="32.06" r="1.1" fill="rgb(51,51,51)"/>
<circle cx="72.85" cy="39.32" r="1.1" fill="rgb(73,73,73)"/>
<circle cx="56.36" cy="65.33" r="1.1" fill="rgb(68,68,68)"/>
<circle cx="105.93" cy="70.15" r="1.1" fill="rgb(69,69,69)"/>
<circle cx="60.59" cy="61.62" r="1.1" fill="rgb(49,49,49)"/>
<circle cx="107.79" cy="62.42" r="1.1" fill="rgb(56,56,56)"/>
<circle cx="101.62" cy="92" r="1.1" fill="rgb(37,37,37)"/>
<circle cx="67.19" cy="111.36" r="1.1" fill="rgb(53,53,53)"/>
<circle cx="94.16" cy="87.19" r="1.1" fill="rgb(67,67,67)"/>
<circle cx="27.78" cy="109.76" r="1.1" fill="rgb(88,88,88)"/>
<circle cx="61.47" cy="52.69" r="1.1" fill="rgb(75,75,75)"/>
<circle cx="109.41" cy="59.11" r="1.1" fill="rgb(42,42,42)"/>
<circle cx="80.53" cy="104.38" r="1.1" fill="rgb(40,40,40)"/>
<circle cx="78.32" cy="46" r="1.1" fill="rgb(88,88,88)"/>
<circle cx="89.22" cy="82.98" r="1.1" fill="rgb(58,58,58)"/>
<circle cx="90.54" cy="44.85" r="1.1" fill="rgb(55,55,55)"/>
<circle cx="80.94" cy="65.7" r="1.1" fill="rgb(38,38,38)"/>
<circle cx="64.53" cy="87.67" r="1.1" fill="rgb(38,38,38)"/>
<circle cx="41.41" cy="74.46" r="1.1" fill="rgb(35,35,35)"/>
<circle cx="51.91" cy="92.07" r="1.1" fill="rgb(57,57,57)"/>
<circle cx="51.94" cy="50.99" r="1.1" fill="rgb(55,55,55)"/>
<circle cx="65.54" cy="67.31" r="1.1" fill="rgb(62,62,62)"/>
<circle cx="123.9" cy="46.08" r="1.1" fill="rgb(50,50,50)"/>
<circle cx="57.79" cy="85.09" r="1.1" fill="rgb(60,60,60)"/>
<circle cx="67.2" cy="98.26" r="1.1" fill="rgb(83,83,83)"/>
<circle cx="59.67" cy="71" r="1.1" fill="rgb(79,79,79)"/>
<circle cx="80.72" cy="53.61" r="1.1" fill="rgb(35,35,35)"/>
<circle cx="118.54" cy="74.22" r="1.1" fill="rgb(37,37,37)"/>
<circle cx="112.4" cy="59.15" r="1.1" fill="rgb(70,70,70)"/>
<circle cx="60.21" cy="75.62" r="1.1" fill="rgb(57,57,57)"/>
<circle cx="49.41" cy="68.22" r="1.1" fill="rgb(75,75,75)"/>
<circle cx="111.91" cy="68.06" r="1.1" fill="rgb(37,37,37)"/>
<circle cx="71.86" cy="72.81" r="1.1" fill="rgb(57,57,57)"/>
<circle cx="91.35" cy="55.6" r="1.1" fill="rgb(82,82,82)"/>
<circle cx="31.2" cy="58.14" r="1.1" fill="rgb(62,62,62)"/>
<circle cx="110.06" cy="39.04" r="1.1" fill="rgb(78,78,78)"/>
<circle cx="53.9" cy="57.59" r="1.1" fill="rgb(48,48,48)"/>
<circle cx="71.93" cy="43.38" r="1.1" fill="rgb(39,39,39)"/>
<circle cx="42.79" cy="61.9" r="1.1" fill="rgb(48,48,48)"/>
<circle cx="64.5" cy="70.76" r="1.1" fill="rgb(73,73,73)"/>
<circle cx="106.05" cy="65.47" r="1.1" fill="rgb(37,37,37)"/>
<circle cx="106.01" cy="70.57" r="1.1" fill="rgb(46,46,46)"/>
<circle cx="69.84" cy="62.44" r="1.1" fill="rgb(84,84,84)"/>
<circle cx="99.83" cy="52.21" r="1.1" fill="rgb(63,63,63)"/>
<circle cx="68.27" cy="50.32" r="1.1" fill="rgb(36,36,36)"/>
<circle cx="59.84" cy="74.82" r="1.1" fill="rgb(67,67,67)"/>
<circle cx="77.12" cy="88.74" r="1.1" fill="rgb(42,42,42)"/>
<circle cx="43.11" cy="76.35" r="1.1" fill="rgb(83,83,83)"/>
<circle cx="54.25" cy="58.93" r="1.1" fill="rgb(74,74,74)"/>
<circle cx="93.5" cy="114.37" r="1.1" fill="rgb(82,82,82)"/>
<circle cx="100.1" cy="42.05" r="1.1" fill="rgb(60,60,60)"/>
<circle cx="29.73" cy="114.99" r="1.1" fill="rgb(38,38,38)"/>
<circle cx="96.21" cy="54.48" r="1.1" fill="rgb(63,63,63)"/>
<circle cx="30.24" cy="86.88" r="1.1" fill="rgb(64,64,64)"/>
<circle cx="91.08" cy="69.43" r="1.1" fill="rgb(51,51,51)"/>
<circle cx="47.4" cy="91.04" r="1.1" fill="rgb(48,48,48)"/>
<circle cx="87.03" cy="84.14" r="1.1" fill="rgb(43,43,43)"/>
<circle cx="60.16" cy="65.48" r="1.1" fill="rgb(88,88,88)"/>
<circle cx="86.4" cy="42.49" r="1.1" fill="rgb(78,78,78)"/>
<circle cx="48.56" cy="54.12" r="1.1" fill="rgb(44,44,44)"/>
<circle cx="70.13" cy="70.79" r="1.1" fill="rgb(41,41,41)"/>
<circle cx="74.97" cy="92.01" r="1.1" fill="rgb(83,83,83)"/>
<circle cx="85.77" cy="81.39" r="1.1" fill="rgb(51,51,51)"/>
<circle cx="43.28" cy="65.16" r="1.1" fill="rgb(51,51,51)"/>
<circle cx="120.02" cy="98.06" r="1.1" fill="rgb(76,76,76)"/>
<circle cx="51.57" cy="53.62" r="1.1" fill="rgb(42,42,42)"/>
<circle cx="53.22" cy="92.67" r="1.1" fill="rgb(51,51,51)"/>
<circle cx="48.38" cy="36.21" r="1.1" fill="rgb(48,48,48)"/>
<circle cx="30.68" cy="45.83" r="1.1" fill="rgb(87,87,87)"/>
<circle cx="64.76" cy="83.26" r="1.1" fill="rgb(78,78,78)"/>
<circle cx="100.23" cy="50.33" r="1.1" fill="rgb(44,44,44)"/>
<circle cx="93.82" cy="71.69" r="1.1" fill="rgb(60,60,60)"/>
<circle cx="42.56" cy="63.1" r="1.1" fill="rgb(64,64,64)"/>
<circle cx="37.03" cy="48.85" r="1.1" fill="rgb(45,45,45)"/>
<circle cx="54.73" cy="58.95" r="1.1" fill="rgb(64,64,64)"/>
<circle cx="99.86" cy="56.54" r="1.1" fill="rgb(88,88,88)"/>
<circle cx="71.28" cy="79.23" r="1.1" fill="rgb(62,62,62)"/>
<circle cx="115.96" cy="74.93" r="1.1" fill="rgb(40,40,40)"/>
<circle cx="88.36" cy="73.46" r="1.1" fill="rgb(77,77,77)"/>
<circle cx="84.74" cy="55.63" r="1.1" fill="rgb(62,62,62)"/>
<circle cx="99.81" cy="50.85" r="1.1" fill="rgb(37,37,37)"/>
<circle cx="98.01" cy="93.08" r="1.1" fill="rgb(50,50,50)"/>
<circle cx="56.93" cy="86.2" r="1.1" fill="rgb(65,65,65)"/>
<circle cx="48.45" cy="78.91" r="1.1" fill="rgb(57,57,57)"/>
<circle cx="71.4" cy="76.22" r="1.1" fill="rgb(78,78,78)"/>
<circle cx="37.48" cy="63.5" r="1.1" fill="rgb(71,71,71)"/>
<circle cx="66.6" cy="61.51" r="1.1" fill="rgb(37,37,37)"/>
<circle cx="86.67" cy="51.58" r="1.1" fill="rgb(77,77,77)"/>
<circle cx="36.92" cy="50.85" r="1.1" fill="rgb(65,65,65)"/>
<circle cx="37.13" cy="49.45" r="1.1" fill="rgb(66,66,66)"/>
<circle cx="40.48" cy="58.27" r="1.1" fill="rgb(59,59,59)"/>
<circle cx="51.01" cy="57.81" r="1.1" fill="rgb(56,56,56)"/>
<circle cx="119.99" cy="74.78" r="1.1" fill="rgb(57,57,57)"/>
<circle cx="27.05" cy="58.21" r="1.1" fill="rgb(58,58,58)"/>
<circle cx="41.43" cy="61.14" r="1.1" fill="rgb(64,64,64)"/>
<circle cx="39.67" cy="46.34" r="1.1" fill="rgb(46,46,46)"/>
<circle cx="69.91" cy="117.6" r="1.1" fill="rgb(69,69,69)"/>
<circle cx="26.16" cy="71.35" r="1.1" fill="rgb(74,74,74)"/>
<circle cx="68.28" cy="89.94" r="1.1" fill="rgb(73,73,73)"/>
<circle cx="39.47" cy="75.55" r="1.1" fill="rgb(73,73,73)"/>
<circle cx="49.68" cy="85.6" r="1.1" fill="rgb(84,84,84)"/>
<circle cx="102.36" cy="60.4" r="1.1" fill="rgb(56,56,56)"/>
<circle cx="41.46" cy="100.91" r="1.1" fill="rgb(71,71,71)"/>
<circle cx="63.11" cy="46.26" r="1.1" fill="rgb(86,86,86)"/>
<circle cx="64.23" cy="81.06" r="1.1" fill="rgb(89,89,89)"/>
<circle cx="39.28" cy="95.58" r="1.1" fill="rgb(61,61,61)"/>
<circle cx="116.02" cy="75.1" r="1.1" fill="rgb(71,71,71)"/>
<circle cx="112.86" cy="111.03" r="1.1" fill="rgb(73,73,73)"/>
<circle cx="89.58" cy="54.28" r="1.1" fill="rgb(49,49,49)"/>
<circle cx="29.09" cy="95.51" r="1.1" fill="rgb(65,65,65)"/>
<circle cx="89.07" cy="51.12" r="1.1" fill="rgb(43,43,43)"/>
<circle cx="82.64" cy="53.98" r="1.1" fill="rgb(66,66,66)"/>
<circle cx="100.27" cy="54.84" r="1.1" fill="rgb(38,38,38)"/>
<circle cx="44.3" cy="61.88" r="1.1" fill="rgb(51,51,51)"/>
<circle cx="119.11" cy="66.17" r="1.1" fill="rgb(49,49,49)"/>
<circle cx="112.1" cy="70.71" r="1.1" fill="rgb(74,74,74)"/>
<circle cx="34.94" cy="42.96" r="1.1" fill="rgb(41,41,41)"/>
<circle cx="27.61" cy="81.16" r="1.1" fill="rgb(69,69,69)"/>
<circle cx="106.35" cy="101.38" r="1.1" fill="rgb(72,72,72)"/>
<circle cx="115.11" cy="58.69" r="1.1" fill="rgb(50,50,50)"/>
<circle cx="122.93" cy="62.68" r="1.1" fill="rgb(72,72,72)"/>
<circle cx="83.82" cy="72.14" r="1.1" fill="rgb(69,69,69)"/>
<circle cx="89.34" cy="70.11" r="1.1" fill="rgb(68,68,68)"/>
<circle cx="90.62" cy="39.04" r="1.1" fill="rgb(40,40,40)"/>
<circle cx="79.57" cy="101.67" r="1.1" fill="rgb(56,56,56)"/>
<circle cx="83.41" cy="53.92" r="1.1" fill="rgb(53,53,53)"/>
<circle cx="56.13" cy="78.79" r="1.1" fill="rgb(60,60,60)"/>
<circle cx="73.78" cy="94.81" r="1.1" fill="rgb(82,82,82)"/>
<circle cx="26.46" cy="85.94" r="1.1" fill="rgb(49,49,49)"/>
<circle cx="95.31" cy="84.4" r="1.1" fill="rgb(53,53,53)"/>
<circle cx="92.21" cy="46.4" r="1.1" fill="rgb(85,85,85)"/>
<circle cx="64.58" cy="66.42" r="1.1" fill="rgb(58,58,58)"/>
<circle cx="108.49" cy="85.78" r="1.1" fill="rgb(35,35,35)"/>
<circle cx="98.55" cy="61.07" r="1.1" fill="rgb(74,74,74)"/>
<circle cx="56.22" cy="57.78" r="1.1" fill="rgb(52,52,52)"/>
<circle cx="31.58" cy="65.71" r="1.1" fill="rgb(71,71,71)"/>
<circle cx="36.59" cy="57.38" r="1.1" fill="rgb(66,66,66)"/>
<circle cx="41.48" cy="87.04" r="1.1" fill="rgb(60,60,60)"/>
<circle cx="53.01" cy="50.49" r="1.1" fill="rgb(44,44,44)"/>
<circle cx="67.22" cy="104.14" r="1.1" fill="rgb(84,84,84)"/>
<circle cx="116.46" cy="45.34" r="1.1" fill="rgb(81,81,81)"/>
<circle cx="50.53" cy="73.97" r="1.1" fill="rgb(54,54,54)"/>
<circle cx="113.39" cy="62.44" r="1.1" fill="rgb(61,61,61)"/>
<circle cx="90.83" cy="25.5" r="1.1" fill="rgb(71,71,71)"/>
<circle cx="108.7" cy="63.91" r="1.1" fill="rgb(55,55,55)"/>
<circle cx="62.8" cy="68.26" r="1.1" fill="rgb(68,68,68)"/>
<circle cx="25.23" cy="79.78" r="1.1" fill="rgb(38,38,38)"/>
<circle cx="101.8" cy="116.47" r="1.1" fill="rgb(84,84,84)"/>
<circle cx="47.34" cy="67.33" r="1.1" fill="rgb(50,50,50)"/>
<circle cx="37.55" cy="48.2" r="1.1" fill="rgb(60,60,60)"/>
<circle cx="103.09" cy="85.47" r="1.1" fill="rgb(67,67,67)"/>
<circle cx="91.43" cy="90.15" r="1.1" fill="rgb(47,47,47)"/>
<circle cx="44.16" cy="86.98" r="1.1" fill="rgb(50,50,50)"/>
<circle cx="49.48" cy="68.82" r="1.1" fill="rgb(62,62,62)"/>
<circle cx="117.63" cy="50.85" r="1.1" fill="rgb(37,37,37)"/>
<circle cx="49.57" cy="86.77" r="1.1" fill="rgb(52,52,52)"/>
<circle cx="93.08" cy="82.33" r="1.1" fill="rgb(66,66,66)"/>
<circle cx="36.35" cy="78.03" r="1.1" fill="rgb(42,42,42)"/>
<circle cx="104.7" cy="64.01" r="1.1" fill="rgb(51,51,51)"/>
<circle cx="35.24" cy="88.9" r="1.1" fill="rgb(87,87,87)"/>
<circle cx="74.1" cy="62.32" r="1.1" fill="rgb(81,81,81)"/>
<circle cx="27.85" cy="55.38" r="1.1" fill="rgb(45,45,45)"/>
<circle cx="77.54" cy="92.8" r="1.1" fill="rgb(73,73,73)"/>
<circle cx="107.98" cy="64.11" r="1.1" fill="rgb(67,67,67)"/>
<circle cx="32.2" cy="67.07" r="1.1" fill="rgb(74,74,74)"/>
<circle cx="50.12" cy="56.89" r="1.1" fill="rgb(47,47,47)"/>
<circle cx="99.5" cy="74.83" r="1.1" fill="rgb(83,83,83)"/>
<circle cx="83.43" cy="99.87" r="1.1" fill="rgb(63,63,63)"/>
<circle cx="53.88" cy="61.96" r="1.1" fill="rgb(79,79,79)"/>
<circle cx="85.55" cy="54.03" r="1.1" fill="rgb(76,76,76)"/>
<circle cx="67.94" cy="64.36" r="1.1" fill="rgb(53,53,53)"/>
<circle cx="109.62" cy="39.05" r="1.1" fill="rgb(35,35,35)"/>
<circle cx="51.94" cy="44.59" r="1.1" fill="rgb(66,66,66)"/>
<circle cx="98.78" cy="75.91" r="1.1" fill="rgb(55,55,55)"/>
<circle cx="86.24" cy="56.85" r="1.1" fill="rgb(49,49,49)"/>
<circle cx="96.99" cy="94.94" r="1.1" fill="rgb(42,42,42)"/>
<circle cx="60.33" cy="110.55" r="1.1" fill="rgb(46,46,46)"/>
<circle cx="95.4" cy="73.68" r="1.1" fill="rgb(77,77,77)"/>
<circle cx="92.67" cy="88.38" r="1.1" fill="rgb(46,46,46)"/>
<circle cx="27.11" cy="73.95" r="1.1" fill="rgb(76,76,76)"/>
<circle cx="120.11" cy="58.72" r="1.1" fill="rgb(41,41,41)"/>
<circle cx="94.23" cy="101.55" r="1.1" fill="rgb(84,84,84)"/>
<circle cx="43.43" cy="70.08" r="1.1" fill="rgb(48,48,48)"/>
<circle cx="96" cy="51.24" r="1.1" fill="rgb(79,79,79)"/>
<circle cx="50.55" cy="65.09" r="1.1" fill="rgb(47,47,47)"/>
<circle cx="69.4" cy="61.54" r="1.1" fill="rgb(46,46,46)"/>
<circle cx="109.36" cy="34.69" r="1.1" fill="rgb(71,71,71)"/>
<circle cx="67.27" cy="61.43" r="1.1" fill="rgb(40,40,40)"/>
<circle cx="51.46" cy="59.78" r="1.1" fill="rgb(48,48,48)"/>
<circle cx="53.17" cy="57.47" r="1.1" fill="rgb(68,68,68)"/>
<circle cx="31.54" cy="39.48" r="1.1" fill="rgb(37,37,37)"/>
<circle cx="44.84" cy="58.71" r="1.1" fill="rgb(49,49,49)"/>
<circle cx="49.82" cy="63.41" r="1.1" fill="rgb(58,58,58)"/>
<circle cx="40.41" cy="65.52" r="1.1" fill="rgb(68,68,68)"/>
<circle cx="30.29" cy="47.07" r="1.1" fill="rgb(46,46,46)"/>
<circle cx="69.05" cy="99.7" r="1.1" fill="rgb(65,65,65)"/>
<circle cx="44.35" cy="45.88" r="1.1" fill="rgb(72,72,72)"/>
<circle cx="96.82" cy="83.86" r="1.1" fill="rgb(54,54,54)"/>
<circle cx="115.89" cy="83.45" r="1.1" fill="rgb(47,47,47)"/>
<circle cx="50" cy="75.19" r="1.1" fill="rgb(48,48,48)"/>
<circle cx="79.79" cy="56.39" r="1.1" fill="rgb(65,65,65)"/>
<circle cx="73.16" cy="80" r="1.1" fill="rgb(35,35,35)"/>
<circle cx="31.37" cy="80.9" r="1.1" fill="rgb(44,44,44)"/>
<circle cx="35.91" cy="59.57" r="1.1" fill="rgb(41,41,41)"/>
<circle cx="111.95" cy="92.09" r="1.1" fill="rgb(61,61,61)"/>
<circle cx="69.89" cy="79.64" r="1.1" fill="rgb(79,79,79)"/>
<circle cx="103.62" cy="31.16" r="1.1" fill="rgb(82,82,82)"/>
<circle cx="30.6" cy="72.68" r="1.1" fill="rgb(71,71,71)"/>
<circle cx="82.08" cy="48.99" r="1.1" fill="rgb(51,51,51)"/>
<circle cx="109.93" cy="47.84" r="1.1" fill="rgb(37,37,37)"/>
<circle cx="110.11" cy="72.2" r="1.1" fill="rgb(63,63,63)"/>
<circle cx="25.42" cy="51.51" r="1.1" fill="rgb(45,45,45)"/>
<circle cx="74.67" cy="93.57" r="1.1" fill="rgb(59,59,59)"/>
<circle cx="59.41" cy="50.77" r="1.1" fill="rgb(67,67,67)"/>
<circle cx="99.02" cy="65.82" r="1.1" fill="rgb(38,38,38)"/>
<circle cx="31.2" cy="69.97" r="1.1" fill="rgb(40,40,40)"/>
<circle cx="49.22" cy="53.15" r="1.1" fill="rgb(36,36,36)"/>
<circle cx="104.46" cy="65.94" r="1.1" fill="rgb(85,85,85)"/>
<circle cx="67.78" cy="68.79" r="1.1" fill="rgb(81,81,81)"/>
<circle cx="120.7" cy="54.53" r="1.1" fill="rgb(45,45,45)"/>
<circle cx="54.58" cy="63.04" r="1.1" fill="rgb(53,53,53)"/>
<circle cx="28.41" cy="50.4" r="1.1" fill="rgb(68,68,68)"/>
<circle cx="61.71" cy="68.02" r="1.1" fill="rgb(72,72,72)"/>
<circle cx="38.57" cy="76.8" r="1.1" fill="rgb(56,56,56)"/>
<circle cx="31.98" cy="51.85" r="1.1" fill="rgb(57,57,57)"/>
<circle cx="79.34" cy="60.9" r="1.1" fill="rgb(74,74,74)"/>
<circle cx="119.14" cy="80.49" r="1.1" fill="rgb(81,81,81)"/>
<circle cx="80.51" cy="56.63" r="1.1" fill="rgb(42,42,42)"/>
<circle cx="87.41" cy="91.46" r="1.1" fill="rgb(45,45,45)"/>
<circle cx="54.94" cy="48.83" r="1.1" fill="rgb(76,76,76)"/>
<circle cx="79.67" cy="72.94" r="1.1" fill="rgb(61,61,61)"/>
<circle cx="98.21" cy="56.41" r="1.1" fill="rgb(45,45,45)"/>
<circle cx="81.52" cy="95.56" r="1.1" fill="rgb(65,65,65)"/>
<circle cx="103.43" cy="58.07" r="1.1" fill="rgb(37,37,37)"/>
<circle cx="77.58" cy="56.32" r="1.1" fill="rgb(78,78,78)"/>
<circle cx="42.8" cy="55.83" r="1.1" fill="rgb(54,54,54)"/>
<circle cx="80.85" cy="61.6" r="1.1" fill="rgb(36,36,36)"/>
<circle cx="71.57" cy="73.51" r="1.1" fill="rgb(86,86,86)"/>
<circle cx="39.75" cy="66.75" r="1.1" fill="rgb(54,54,54)"/>
<circle cx="84.56" cy="93.84" r="1.1" fill="rgb(79,79,79)"/>
<circle cx="104.9" cy="67.1" r="1.1" fill="rgb(61,61,61)"/>
<circle cx="36.86" cy="84.99" r="1.1" fill="rgb(37,37,37)"/>
<circle cx="77.02" cy="92.98" r="1.1" fill="rgb(67,67,67)"/>
<circle cx="96.3" cy="72.78" r="1.1" fill="rgb(39,39,39)"/>
<circle cx="62.78" cy="43.07" r="1.1" fill="rgb(42,42,42)"/>
<circle cx="49.71" cy="62.16" r="1.1" fill="rgb(87,87,87)"/>
<circle cx="59.73" cy="63" r="1.1" fill="rgb(64,64,64)"/>
<circle cx="76.69" cy="60.48" r="1.1" fill="rgb(48,48,48)"/>
<circle cx="91.46" cy="32.78" r="1.1" fill="rgb(73,73,73)"/>
<circle cx="78.46" cy="76.77" r="1.1" fill="rgb(66,66,66)"/>
<circle cx="34.27" cy="81.03" r="1.1" fill="rgb(75,75,75)"/>
<circle cx="105" cy="57.65" r="1.1" fill="rgb(71,71,71)"/>
<circle cx="116.03" cy="60.3" r="1.1" fill="rgb(47,47,47)"/>
<circle cx="33.74" cy="60.69" r="1.1" fill="rgb(56,56,56)"/>
<circle cx="47.73" cy="95.33" r="1.1" fill="rgb(59,59,59)"/>
<circle cx="40.48" cy="45.57" r="1.1" fill="rgb(44,44,44)"/>
<circle cx="108.25" cy="50.5" r="1.1" fill="rgb(51,51,51)"/>
<circle cx="114.61" cy="68.21" r="1.1" fill="rgb(69,69,69)"/>
<circle cx="28.64" cy="90.62" r="1.1" fill="rgb(56,56,56)"/>
<circle cx="55.81" cy="58.54" r="1.1" fill="rgb(53,53,53)"/>
<circle cx="42.26" cy="55.68" r="1.1" fill="rgb(54,54,54)"/>
<circle cx="69.42" cy="51.9" r="1.1" fill="rgb(44,44,44)"/>
<circle cx="115.79" cy="63.15" r="1.1" fill="rgb(86,86,86)"/>
<circle cx="30.92" cy="81.12" r="1.1" fill="rgb(72,72,72)"/>
<circle cx="40.25" cy="68.96" r="1.1" fill="rgb(35,35,35)"/>
<circle cx="71.18" cy="86.09" r="1.1" fill="rgb(78,78,78)"/>
<circle cx="74.91" cy="76.24" r="1.1" fill="rgb(87,87,87)"/>
<circle cx="97.52" cy="79.85" r="1.1" fill="rgb(80,80,80)"/>
<circle cx="66.24" cy="102.1" r="1.1" fill="rgb(36,36,36)"/>
<circle cx="37.42" cy="61.61" r="1.1" fill="rgb(47,47,47)"/>
<circle cx="57.89" cy="38.89" r="1.1" fill="rgb(39,39,39)"/>
<circle cx="122.12" cy="45.3" r="1.1" fill="rgb(35,35,35)"/>
<circle cx="98.05" cy="58.06" r="1.1" fill="rgb(46,46,46)"/>
<circle cx="35.12" cy="59.28" r="1.1" fill="rgb(86,86,86)"/>
<circle cx="104" cy="78.73" r="1.1" fill="rgb(50,50,50)"/>
<circle cx="53.7" cy="89.79" r="1.1" fill="rgb(66,66,66)"/>
<circle cx="101.22" cy="49.57" r="1.1" fill="rgb(82,82,82)"/>
<circle cx="25.97" cy="71.18" r="1.1" fill="rgb(87,87,87)"/>
<circle cx="110.55" cy="43.42" r="1.1" fill="rgb(81,81,81)"/>
<circle cx="39.41" cy="54.42" r="1.1" fill="rgb(37,37,37)"/>
<circle cx="68.04" cy="58.01" r="1.1" fill="rgb(86,86,86)"/>
<circle cx="88.91" cy="47.23" r="1.1" fill="rgb(64,64,64)"/>
<circle cx="73.28" cy="44.12" r="1.1" fill="rgb(56,56,56)"/>
<circle cx="39.7" cy="49.41" r="1.1" fill="rgb(72,72,72)"/>
<circle cx="37.24" cy="63.83" r="1.1" fill="rgb(35,35,35)"/>
<circle cx="51.12" cy="72.55" r="1.1" fill="rgb(67,67,67)"/>
<circle cx="29.35" cy="72.18" r="1.1" fill="rgb(69,69,69)"/>
<circle cx="44.56" cy="49.58" r="1.1" fill="rgb(41,41,41)"/>
<circle cx="36.4" cy="52.52" r="1.1" fill="rgb(84,84,84)"/>
<circle cx="68.95" cy="50.65" r="1.1" fill="rgb(40,40,40)"/>
<circle cx="58.18" cy="70.52" r="1.1" fill="rgb(40,40,40)"/>
<circle cx="81.27" cy="34.46" r="1.1" fill="rgb(58,58,58)"/>
<circle cx="50.77" cy="81.96" r="1.1" fill="rgb(80,80,80)"/>
<circle cx="27.74" cy="56.97" r="1.1" fill="rgb(57,57,57)"/>
<circle cx="55.68" cy="52.64" r="1.1" fill="rgb(35,35,35)"/>
<circle cx="98.51" cy="68.92" r="1.1" fill="rgb(66,66,66)"/>
<circle cx="48.34" cy="78.97" r="1.1" fill="rgb(75,75,75)"/>
<circle cx="62.93" cy="68.97" r="1.1" fill="rgb(57,57,57)"/>
<circle cx="98.49" cy="79.26" r="1.1" fill="rgb(62,62,62)"/>
<circle cx="63.15" cy="65.95" r="1.1" fill="rgb(85,85,85)"/>
<circle cx="112.2" cy="81.83" r="1.1" fill="rgb(84,84,84)"/>
<circle cx="115.42" cy="82.05" r="1.1" fill="rgb(63,63,63)"/>
<circle cx="53.66" cy="62.56" r="1.1" fill="rgb(83,83,83)"/>
<circle cx="96.53" cy="113.91" r="1.1" fill="rgb(45,45,45)"/>
<circle cx="48.08" cy="66.39" r="1.1" fill="rgb(37,37,37)"/>
<circle cx="37.27" cy="65.26" r="1.1" fill="rgb(71,71,71)"/>
<circle cx="66.25" cy="50.64" r="1.1" fill="rgb(62,62,62)"/>
<circle cx="82.86" cy="82.8" r="1.1" fill="rgb(47,47,47)"/>
<circle cx="117.25" cy="75.27" r="1.1" fill="rgb(48,48,48)"/>
<circle cx="37.87" cy="44.97" r="1.1" fill="rgb(54,54,54)"/>
<circle cx="94.1" cy="99.69" r="1.1" fill="rgb(59,59,59)"/>
<circle cx="70.02" cy="69.05" r="1.1" fill="rgb(74,74,74)"/>
<circle cx="36.55" cy="93" r="1.1" fill="rgb(38,38,38)"/>
<circle cx="121.13" cy="32.01" r="1.1" fill="rgb(48,48,48)"/>
<circle cx="92.4" cy="86.14" r="1.1" fill="rgb(54,54,54)"/>
<circle cx="36.28" cy="73.4" r="1.1" fill="rgb(80,80,80)"/>
<circle cx="114.14" cy="52.94" r="1.1" fill="rgb(57,57,57)"/>
<circle cx="33.91" cy="89.63" r="1.1" fill="rgb(54,54,54)"/>
<circle cx="32.95" cy="29.52" r="1.1" fill="rgb(35,35,35)"/>
<circle cx="55.72" cy="73.74" r="1.1" fill="rgb(86,86,86)"/>
<circle cx="117.5" cy="54.39" r="1.1" fill="rgb(61,61,61)"/>
<circle cx="27.66" cy="76.63" r="1.1" fill="rgb(77,77,77)"/>
<circle cx="115.44" cy="37.28" r="1.1" fill="rgb(84,84,84)"/>
<circle cx="83.79" cy="74.04" r="1.1" fill="rgb(41,41,41)"/>
<circle cx="30.64" cy="83.74" r="1.1" fill="rgb(38,38,38)"/>
<circle cx="79.42" cy="75.71" r="1.1" fill="rgb(36,36,36)"/>
<circle cx="68.35" cy="50.58" r="1.1" fill="rgb(86,86,86)"/>
<circle cx="78.95" cy="76.87" r="1.1" fill="rgb(55,55,55)"/>
<circle cx="96.66" cy="96.52" r="1.1" fill="rgb(61,61,61)"/>
<circle cx="90.64" cy="73.06" r="1.1" fill="rgb(38,38,38)"/>
<circle cx="123.71" cy="53.76" r="1.1" fill="rgb(46,46,46)"/>
<circle cx="38.88" cy="59.99" r="1.1" fill="rgb(47,47,47)"/>
<circle cx="104.48" cy="49.17" r="1.1" fill="rgb(88,88,88)"/>
<circle cx="63.58" cy="81.26" r="1.1" fill="rgb(75,75,75)"/>
<circle cx="101.42" cy="89.01" r="1.1" fill="rgb(61,61,61)"/>
<circle cx="112.68" cy="53.79" r="1.1" fill="rgb(66,66,66)"/>
<circle cx="123.16" cy="56.93" r="1.1" fill="rgb(59,59,59)"/>
<circle cx="49.33" cy="109.1" r="1.1" fill="rgb(37,37,37)"/>
<circle cx="67.76" cy="80.07" r="1.1" fill="rgb(55,55,55)"/>
<circle cx="118.01" cy="75.91" r="1.1" fill="rgb(76,76,76)"/>
<circle cx="118.32" cy="80.77" r="1.1" fill="rgb(83,83,83)"/>
<circle cx="59.79" cy="72.38" r="1.1" fill="rgb(79,79,79)"/>
<circle cx="117.74" cy="61.56" r="1.1" fill="rgb(42,42,42)"/>
<circle cx="63.07" cy="43.93" r="1.1" fill="rgb(80,80,80)"/>
<circle cx="59.98" cy="43.44" r="1.1" fill="rgb(46,46,46)"/>
<circle cx="98.66" cy="78.23" r="1.1" fill="rgb(35,35,35)"/>
<circle cx="69.59" cy="54.26" r="1.1" fill="rgb(50,50,50)"/>
<circle cx="67.29" cy="97.05" r="1.1" fill="rgb(55,55,55)"/>
<circle cx="61.1" cy="65.08" r="1.1" fill="rgb(38,38,38)"/>
<circle cx="65.75" cy="76.47" r="1.1" fill="rgb(68,68,68)"/>
<circle cx="37.3" cy="75.57" r="1.1" fill="rgb(81,81,81)"/>
<circle cx="30.11" cy="90.12" r="1.1" fill="rgb(82,82,82)"/>
<circle cx="98.39" cy="71.05" r="1.1" fill="rgb(61,61,61)"/>
<circle cx="79" cy="46.35" r="1.1" fill="rgb(49,49,49)"/>
<circle cx="89.95" cy="69.38" r="1.1" fill="rgb(68,68,68)"/>
<circle cx="103.39" cy="83.95" r="1.1" fill="rgb(48,48,48)"/>
<circle cx="45.86" cy="56.85" r="1.1" fill="rgb(83,83,83)"/>
<circle cx="46.21" cy="52.78" r="1.1" fill="rgb(58,58,58)"/>
<circle cx="50.48" cy="106.3" r="1.1" fill="rgb(62,62,62)"/>
<circle cx="53.01" cy="66.03" r="1.1" fill="rgb(66,66,66)"/>
<circle cx="99.08" cy="68.15" r="1.1" fill="rgb(50,50,50)"/>
<circle cx="59.92" cy="58.49" r="1.1" fill="rgb(89,89,89)"/>
<circle cx="54.9" cy="53.04" r="1.1" fill="rgb(64,64,64)"/>
<circle cx="86.31" cy="68.3" r="1.1" fill="rgb(35,35,35)"/>
<circle cx="41.7" cy="65.59" r="1.1" fill="rgb(62,62,62)"/>
<circle cx="34.21" cy="80.68" r="1.1" fill="rgb(56,56,56)"/>
<circle cx="92.54" cy="74.29" r="1.1" fill="rgb(51,51,51)"/>
<circle cx="98.64" cy="41.33" r="1.1" fill="rgb(42,42,42)"/>
<circle cx="52.28" cy="69.9" r="1.1" fill="rgb(47,47,47)"/>
<circle cx="86.28" cy="104.14" r="1.1" fill="rgb(67,67,67)"/>
<circle cx="27.75" cy="70.61" r="1.1" fill="rgb(54,54,54)"/>
<circle cx="62.91" cy="106.54" r="1.1" fill="rgb(66,66,66)"/>
<circle cx="80.37" cy="78.11" r="1.1" fill="rgb(75,75,75)"/>
<circle cx="48.1" cy="50.21" r="1.1" fill="rgb(58,58,58)"/>
<circle cx="57.36" cy="77.49" r="1.1" fill="rgb(44,44,44)"/>
<circle cx="83.58" cy="48.55" r="1.1" fill="rgb(71,71,71)"/>
<circle cx="81.58" cy="32.69" r="1.1" fill="rgb(89,89,89)"/>
<circle cx="38.65" cy="78.87" r="1.1" fill="rgb(80,80,80)"/>
<circle cx="93.51" cy="74.96" r="1.1" fill="rgb(47,47,47)"/>
<circle cx="31.81" cy="59.56" r="1.1" fill="rgb(80,80,80)"/>
<circle cx="120.83" cy="43.73" r="1.1" fill="rgb(49,49,49)"/>
<circle cx="43.2" cy="44.78" r="1.1" fill="rgb(41,41,41)"/>
<circle cx="48.12" cy="47.23" r="1.1" fill="rgb(41,41,41)"/>
<circle cx="43.01" cy="58.77" r="1.1" fill="rgb(77,77,77)"/>
<circle cx="123.11" cy="94.66" r="1.1" fill="rgb(56,56,56)"/>
<circle cx="51.32" cy="30.68" r="1.1" fill="rgb(85,85,85)"/>
<circle cx="83.15" cy="74.91" r="1.1" fill="rgb(55,55,55)"/>
<circle cx="123.02" cy="46.86" r="1.1" fill="rgb(38,38,38)"/>
<circle cx="118.77" cy="48.54" r="1.1" fill="rgb(72,72,72)"/>
<circle cx="28.47" cy="73.83" r="1.1" fill="rgb(67,67,67)"/>
<circle cx="74.62" cy="86.66" r="1.1" fill="rgb(84,84,84)"/>
<circle cx="82.74" cy="60.34" r="1.1" fill="rgb(87,87,87)"/>
<circle cx="56.15" cy="51.52" r="1.1" fill="rgb(48,48,48)"/>
<circle cx="55.36" cy="67.59" r="1.1" fill="rgb(48,48,48)"/>
<circle cx="25.31" cy="66.9" r="1.1" fill="rgb(79,79,79)"/>
<circle cx="27.85" cy="84.46" r="1.1" fill="rgb(55,55,55)"/>
<circle cx="77.54" cy="79.8" r="1.1" fill="rgb(51,51,51)"/>
<circle cx="31.44" cy="78.62" r="1.1" fill="rgb(43,43,43)"/>
<circle cx="43.21" cy="53.24" r="1.1" fill="rgb(57,57,57)"/>
<circle cx="55.89" cy="80.27" r="1.1" fill="rgb(53,53,53)"/>
<circle cx="30.95" cy="52.94" r="1.1" fill="rgb(42,42,42)"/>
<circle cx="27.48" cy="58.75" r="1.1" fill="rgb(44,44,44)"/>
<circle cx="116.35" cy="91.49" r="1.1" fill="rgb(84,84,84)"/>
<circle cx="65.99" cy="68.6" r="1.1" fill="rgb(41,41,41)"/>
<circle cx="43.44" cy="65.59" r="1.1" fill="rgb(55,55,55)"/>
<circle cx="93.7" cy="96.51" r="1.1" fill="rgb(56,56,56)"/>
<circle cx="25.71" cy="69.24" r="1.1" fill="rgb(73,73,73)"/>
<circle cx="47.29" cy="52.17" r="1.1" fill="rgb(58,58,58)"/>
<circle cx="119.89" cy="74.65" r="1.1" fill="rgb(36,36,36)"/>
<circle cx="113.3" cy="66.73" r="1.1" fill="rgb(68,68,68)"/>
<circle cx="86.27" cy="80.36" r="1.1" fill="rgb(73,73,73)"/>
<circle cx="33" cy="109.71" r="1.1" fill="rgb(65,65,65)"/>
<circle cx="54.4" cy="55.69" r="1.1" fill="rgb(47,47,47)"/>
<circle cx="27.23" cy="54.9" r="1.1" fill="rgb(87,87,87)"/>
<circle cx="44.81" cy="91.18" r="1.1" fill="rgb(59,59,59)"/>
<circle cx="27.02" cy="64.21" r="1.1" fill="rgb(70,70,70)"/>
<circle cx="36.03" cy="49.82" r="1.1" fill="rgb(72,72,72)"/>
<circle cx="85.99" cy="72.24" r="1.1" fill="rgb(44,44,44)"/>
<circle cx="33.66" cy="34.39" r="1.1" fill="rgb(44,44,44)"/>
<circle cx="38.79" cy="57.72" r="1.1" fill="rgb(40,40,40)"/>
<circle cx="113.83" cy="58.14" r="1.1" fill="rgb(63,63,63)"/>
<circle cx="56.1" cy="60.04" r="1.1" fill="rgb(56,56,56)"/>
<circle cx="55.86" cy="68.45" r="1.1" fill="rgb(80,80,80)"/>
<circle cx="32.4" cy="65.9" r="1.1" fill="rgb(79,79,79)"/>
<circle cx="102.73" cy="98.59" r="1.1" fill="rgb(43,43,43)"/>
<circle cx="90.41" cy="61.39" r="1.1" fill="rgb(70,70,70)"/>
<circle cx="77.24" cy="54.57" r="1.1" fill="rgb(60,60,60)"/>
<circle cx="84.43" cy="44.18" r="1.1" fill="rgb(38,38,38)"/>
<circle cx="33.66" cy="46.84" r="1.1" fill="rgb(45,45,45)"/>
<circle cx="48.77" cy="69.22" r="1.1" fill="rgb(79,79,79)"/>
<circle cx="80.94" cy="50.02" r="1.1" fill="rgb(42,42,42)"/>
<circle cx="118.99" cy="64.93" r="1.1" fill="rgb(58,58,58)"/>
<circle cx="104.92" cy="79.4" r="1.1" fill="rgb(61,61,61)"/>
<circle cx="86.76" cy="78.97" r="1.1" fill="rgb(78,78,78)"/>
<circle cx="74.38" cy="86.63" r="1.1" fill="rgb(60,60,60)"/>
<circle cx="26.17" cy="59.7" r="1.1" fill="rgb(64,64,64)"/>
<circle cx="112.57" cy="68.47" r="1.1" fill="rgb(70,70,70)"/>
<circle cx="30.63" cy="106.37" r="1.1" fill="rgb(54,54,54)"/>
<circle cx="36.3" cy="93.57" r="1.1" fill="rgb(82,82,82)"/>
<circle cx="92.12" cy="108.23" r="1.1" fill="rgb(71,71,71)"/>
<circle cx="104.4" cy="64.16" r="1.1" fill="rgb(73,73,73)"/>
<circle cx="101.75" cy="81.34" r="1.1" fill="rgb(86,86,86)"/>
<circle cx="67.71" cy="76.27" r="1.1" fill="rgb(53,53,53)"/>
<circle cx="40.8" cy="74.39" r="1.1" fill="rgb(75,75,75)"/>
<circle cx="27.86" cy="71.3" r="1.1" fill="rgb(61,61,61)"/>
<circle cx="108.48" cy="69.77" r="1.1" fill="rgb(55,55,55)"/>
<circle cx="121.66" cy="67.38" r="1.1" fill="rgb(72,72,72)"/>
<circle cx="47.21" cy="67.28" r="1.1" fill="rgb(43,43,43)"/>
<circle cx="110.01" cy="78.36" r="1.1" fill="rgb(81,81,81)"/>
<circle cx="62.73" cy="56.58" r="1.1" fill="rgb(86,86,86)"/>
<circle cx="53.74" cy="89.17" r="1.1" fill="rgb(72,72,72)"/>
<circle cx="73" cy="86.09" r="1.1" fill="rgb(56,56,56)"/>
<circle cx="25.61" cy="78.29" r="1.1" fill="rgb(62,62,62)"/>
<circle cx="66.74" cy="62.69" r="1.1" fill="rgb(51,51,51)"/>
<circle cx="42.94" cy="83.56" r="1.1" fill="rgb(42,42,42)"/>
<circle cx="94.11" cy="93.47" r="1.1" fill="rgb(83,83,83)"/>
<circle cx="72.74" cy="59.51" r="1.1" fill="rgb(82,82,82)"/>
<circle cx="110.29" cy="45.48" r="1.1" fill="rgb(68,68,68)"/>
<circle cx="113.19" cy="53.65" r="1.1" fill="rgb(50,50,50)"/>
<circle cx="54.27" cy="59.4" r="1.1" fill="rgb(89,89,89)"/>
<circle cx="50.72" cy="95.25" r="1.1" fill="rgb(57,57,57)"/>
<circle cx="117.62" cy="67" r="1.1" fill="rgb(66,66,66)"/>
<circle cx="72.89" cy="77.55" r="1.1" fill="rgb(83,83,83)"/>
<circle cx="33.3" cy="49.48" r="1.1" fill="rgb(37,37,37)"/>
<circle cx="28.78" cy="69.11" r="1.1" fill="rgb(46,46,46)"/>
<circle cx="123" cy="73.74" r="1.1" fill="rgb(75,75,75)"/>
<circle cx="80.49" cy="90.12" r="1.1" fill="rgb(85,85,85)"/>
<circle cx="29.53" cy="53.9" r="1.1" fill="rgb(82,82,82)"/>
<circle cx="73.62" cy="72.75" r="1.1" fill="rgb(47,47,47)"/>
<circle cx="72.9" cy="93.45" r="1.1" fill="rgb(78,78,78)"/>
<circle cx="66.01" cy="49.19" r="1.1" fill="rgb(39,39,39)"/>
<circle cx="118.89" cy="63.72" r="1.1" fill="rgb(67,67,67)"/>
<circle cx="118.63" cy="60.18" r="1.1" fill="rgb(63,63,63)"/>
<circle cx="35.92" cy="30.28" r="1.1" fill="rgb(82,82,82)"/>
<circle cx="38.41" cy="98.78" r="1.1" fill="rgb(78,78,78)"/>
<circle cx="63.23" cy="71.83" r="1.1" fill="rgb(37,37,37)"/>
<circle cx="106.67" cy="80.1" r="1.1" fill="rgb(57,57,57)"/>
<circle cx="85.03" cy="44.59" r="1.1" fill="rgb(39,39,39)"/>
<circle cx="95.9" cy="85.46" r="1.1" fill="rgb(81,81,81)"/>
<circle cx="80.17" cy="92.79" r="1.1" fill="rgb(35,35,35)"/>
<circle cx="43.94" cy="78.74" r="1.1" fill="rgb(56,56,56)"/>
<circle cx="104.99" cy="84.45" r="1.1" fill="rgb(71,71,71)"/>
<circle cx="26.07" cy="56.45" r="1.1" fill="rgb(79,79,79)"/>
<circle cx="92.68" cy="75.78" r="1.1" fill="rgb(84,84,84)"/>
<circle cx="42.44" cy="60.5" r="1.1" fill="rgb(41,41,41)"/>
<circle cx="69.58" cy="86.87" r="1.1" fill="rgb(49,49,49)"/>
<circle cx="121.39" cy="86.46" r="1.1" fill="rgb(50,50,50)"/>
<circle cx="76.42" cy="63.98" r="1.1" fill="rgb(50,50,50)"/>
<circle cx="29.75" cy="80.15" r="1.1" fill="rgb(41,41,41)"/>
<circle cx="164.7" cy="27.9" r="1.1" fill="rgb(75,75,75)"/>
<circle cx="163.6" cy="32.8" r="1.1" fill="rgb(75,75,75)"/>
<circle cx="122.2" cy="34.3" r="1.1" fill="rgb(60,60,60)"/>
<circle cx="123" cy="39.8" r="1.1" fill="rgb(60,60,60)"/>
<circle cx="125.5" cy="40.4" r="1.1" fill="rgb(77,77,77)"/>
<circle cx="182.8" cy="33.1" r="1.1" fill="rgb(71,71,71)"/>
<circle cx="184.9" cy="40.1" r="1.1" fill="rgb(43,43,43)"/>
<circle cx="203.8" cy="37.9" r="1.1" fill="rgb(48,48,48)"/>
<circle cx="175.4" cy="43.2" r="1.1" fill="rgb(62,62,62)"/>
<circle cx="193.7" cy="44.7" r="1.1" fill="rgb(75,75,75)"/>
<circle cx="208.9" cy="48" r="1.1" fill="rgb(89,89,89)"/>
<circle cx="143.4" cy="45.8" r="1.1" fill="rgb(89,89,89)"/>
<circle cx="156.9" cy="48.7" r="1.1" fill="rgb(63,63,63)"/>
<circle cx="154.5" cy="51.3" r="1.1" fill="rgb(39,39,39)"/>
<circle cx="132.5" cy="51.3" r="1.1" fill="rgb(66,66,66)"/>
<circle cx="146.8" cy="53.2" r="1.1" fill="rgb(52,52,52)"/>
<circle cx="182.8" cy="51.3" r="1.1" fill="rgb(46,46,46)"/>
<circle cx="176.6" cy="55.1" r="1.1" fill="rgb(82,82,82)"/>
<circle cx="128.9" cy="56.6" r="1.1" fill="rgb(81,81,81)"/>
<circle cx="135.6" cy="55.7" r="1.1" fill="rgb(81,81,81)"/>
<circle cx="137.9" cy="57.4" r="1.1" fill="rgb(36,36,36)"/>
<circle cx="140.4" cy="59.2" r="1.1" fill="rgb(82,82,82)"/>
<circle cx="144.9" cy="59.6" r="1.1" fill="rgb(83,83,83)"/>
<circle cx="134.9" cy="60.9" r="1.1" fill="rgb(47,47,47)"/>
<circle cx="177.3" cy="61.1" r="1.1" fill="rgb(65,65,65)"/>
<circle cx="131.9" cy="63.6" r="1.1" fill="rgb(65,65,65)"/>
<circle cx="133.7" cy="63.3" r="1.1" fill="rgb(60,60,60)"/>
<circle cx="122.2" cy="63.6" r="1.1" fill="rgb(39,39,39)"/>
<circle cx="146.8" cy="63.6" r="1.1" fill="rgb(41,41,41)"/>
<circle cx="166.9" cy="63.6" r="1.1" fill="rgb(58,58,58)"/>
<circle cx="122.2" cy="64.5" r="1.1" fill="rgb(49,49,49)"/>
<circle cx="123.7" cy="66.7" r="1.1" fill="rgb(66,66,66)"/>
<circle cx="132.4" cy="64.2" r="1.1" fill="rgb(67,67,67)"/>
<circle cx="190.7" cy="64.8" r="1.1" fill="rgb(49,49,49)"/>
<circle cx="198.9" cy="69.7" r="1.1" fill="rgb(57,57,57)"/>
<circle cx="125.2" cy="73.8" r="1.1" fill="rgb(58,58,58)"/>
<circle cx="154.2" cy="72.2" r="1.1" fill="rgb(88,88,88)"/>
<circle cx="143.8" cy="72.7" r="1.1" fill="rgb(55,55,55)"/>
<circle cx="130.7" cy="77.4" r="1.1" fill="rgb(64,64,64)"/>
<circle cx="136.4" cy="78.9" r="1.1" fill="rgb(39,39,39)"/>
<circle cx="137.6" cy="78.6" r="1.1" fill="rgb(55,55,55)"/>
<circle cx="149.8" cy="78.5" r="1.1" fill="rgb(38,38,38)"/>
<circle cx="163.9" cy="74.9" r="1.1" fill="rgb(39,39,39)"/>
<circle cx="165.4" cy="76.7" r="1.1" fill="rgb(77,77,77)"/>
<circle cx="167.6" cy="80.8" r="1.1" fill="rgb(36,36,36)"/>
<circle cx="184.8" cy="76.8" r="1.1" fill="rgb(35,35,35)"/>
<circle cx="190.7" cy="80.8" r="1.1" fill="rgb(83,83,83)"/>
<circle cx="194.4" cy="77.1" r="1.1" fill="rgb(89,89,89)"/>
<circle cx="200.4" cy="80.1" r="1.1" fill="rgb(44,44,44)"/>
<circle cx="121.5" cy="81.6" r="1.1" fill="rgb(84,84,84)"/>
<circle cx="121.8" cy="83.8" r="1.1" fill="rgb(80,80,80)"/>
<circle cx="131.6" cy="82.6" r="1.1" fill="rgb(89,89,89)"/>
<circle cx="131.2" cy="86.1" r="1.1" fill="rgb(57,57,57)"/>
<circle cx="163.2" cy="84.1" r="1.1" fill="rgb(78,78,78)"/>
<circle cx="156.8" cy="87.8" r="1.1" fill="rgb(39,39,39)"/>
<circle cx="143.8" cy="89.8" r="1.1" fill="rgb(35,35,35)"/>
<circle cx="145.3" cy="90.8" r="1.1" fill="rgb(36,36,36)"/>
<circle cx="155.7" cy="93.1" r="1.1" fill="rgb(41,41,41)"/>
<circle cx="210.8" cy="88.3" r="1.1" fill="rgb(84,84,84)"/>
<circle cx="213.8" cy="89.5" r="1.1" fill="rgb(52,52,52)"/>
<circle cx="193.7" cy="92" r="1.1" fill="rgb(54,54,54)"/>
<circle cx="172.9" cy="95.7" r="1.1" fill="rgb(44,44,44)"/>
<circle cx="120.7" cy="96.8" r="1.1" fill="rgb(62,62,62)"/>
<circle cx="128.9" cy="97.5" r="1.1" fill="rgb(38,38,38)"/>
<circle cx="183.3" cy="99.9" r="1.1" fill="rgb(47,47,47)"/>
<circle cx="138.2" cy="102.4" r="1.1" fill="rgb(85,85,85)"/>
<circle cx="127.7" cy="108.8" r="1.1" fill="rgb(84,84,84)"/>
<circle cx="126" cy="118.9" r="1.1" fill="rgb(85,85,85)"/>
<circle cx="153.5" cy="114.1" r="1.1" fill="rgb(53,53,53)"/>
<circle cx="35.1" cy="18" r="1.1" fill="rgb(77,77,77)"/>
<circle cx="34.3" cy="28.8" r="1.1" fill="rgb(39,39,39)"/>
<circle cx="25.8" cy="35" r="1.1" fill="rgb(48,48,48)"/>
<circle cx="54.5" cy="30.6" r="1.1" fill="rgb(51,51,51)"/>
<circle cx="61" cy="28.6" r="1.1" fill="rgb(81,81,81)"/>
<circle cx="68" cy="25.2" r="1.1" fill="rgb(80,80,80)"/>
<circle cx="77" cy="26.8" r="1.1" fill="rgb(80,80,80)"/>
<circle cx="94" cy="26.3" r="1.1" fill="rgb(54,54,54)"/>
<circle cx="100" cy="27.2" r="1.1" fill="rgb(52,52,52)"/>
<circle cx="107" cy="33" r="1.1" fill="rgb(81,81,81)"/>
<circle cx="122" cy="34" r="1.1" fill="rgb(42,42,42)"/>
<circle cx="36.6" cy="141.8" r="1.1" fill="rgb(61,61,61)"/>
<circle cx="42.8" cy="141.8" r="1.1" fill="rgb(42,42,42)"/>
<circle cx="28" cy="127.7" r="1.1" fill="rgb(67,67,67)"/>
<circle cx="33" cy="126.5" r="1.1" fill="rgb(57,57,57)"/>
<circle cx="37" cy="126.5" r="1.1" fill="rgb(71,71,71)"/>
<circle cx="49.5" cy="130.8" r="1.1" fill="rgb(80,80,80)"/>
<circle cx="56.5" cy="127" r="1.1" fill="rgb(46,46,46)"/>
<circle cx="62.5" cy="127" r="1.1" fill="rgb(39,39,39)"/>
<circle cx="73" cy="133.5" r="1.1" fill="rgb(40,40,40)"/>
<circle cx="29" cy="120.5" r="1.1" fill="rgb(58,58,58)"/>
<circle cx="36" cy="120.2" r="1.1" fill="rgb(77,77,77)"/>
<circle cx="45" cy="119.5" r="1.1" fill="rgb(54,54,54)"/>
<circle cx="50" cy="123" r="1.1" fill="rgb(77,77,77)"/>
<circle cx="80" cy="121" r="1.1" fill="rgb(84,84,84)"/>
<circle cx="87" cy="119" r="1.1" fill="rgb(88,88,88)"/>
<circle cx="89" cy="124" r="1.1" fill="rgb(43,43,43)"/>
<circle cx="106" cy="122" r="1.1" fill="rgb(68,68,68)"/>
<path class="box" d="M17.5 12.8 V147.3 M221.3 12.8 V147.3 M17.2 13.1 H221.6 M17.2 147.1 H221.6"/>
<text class="title" x="119.5" y="8.2">exp(age/100)</text>
<path class="tick" d="M37.1 147 V149.1"/>
<text class="tl" x="37.1" y="156.3">0.03</text>
<path class="tick" d="M60.5 147 V149.1"/>
<text class="tl" x="60.5" y="156.3">0.84</text>
<path class="tick" d="M83.8 147 V149.1"/>
<text class="tl" x="83.8" y="156.3">2.4</text>
<path class="tick" d="M107.8 147 V149.1"/>
<text class="tl" x="107.8" y="156.3">4.9</text>
<path class="tick" d="M128.4 147 V149.1"/>
<text class="tl" x="128.4" y="156.3">6.2</text>
<path class="tick" d="M151.5 147 V149.1"/>
<text class="tl" x="151.5" y="156.3">6.6</text>
<path class="tick" d="M176.5 147 V149.1"/>
<text class="tl" x="176.5" y="156.3">7.1</text>
<path class="tick" d="M201.5 147 V149.1"/>
<text class="tl" x="201.5" y="156.3">7.6</text>
<path class="tick" d="M17.5 24.4 H15.1"/>
<text class="tl" transform="translate(12.9 24.4) rotate(-90)">15</text>
<path class="tick" d="M17.5 43.7 H15.1"/>
<text class="tl" transform="translate(12.9 43.7) rotate(-90)">10</text>
<path class="tick" d="M17.5 63 H15.1"/>
<text class="tl" transform="translate(12.9 63) rotate(-90)">5</text>
<path class="tick" d="M17.5 82.4 H15.1"/>
<text class="tl" transform="translate(12.9 82.4) rotate(-90)">0</text>
<path class="tick" d="M17.5 101.7 H15.1"/>
<text class="tl" transform="translate(12.9 101.7) rotate(-90)">-5</text>
<path class="tick" d="M17.5 121 H15.1"/>
<text class="tl" transform="translate(12.9 121) rotate(-90)">-10</text>
<path class="tick" d="M17.5 140.4 H15.1"/>
<text class="tl" transform="translate(12.9 140.4) rotate(-90)">-15</text>
<text class="al" x="119.8" y="167">Time (years)</text>
<text class="al yl" transform="translate(6.9 80.15) rotate(-90)">Beta(t)</text>
<text class="lt" x="17.5" y="167">a</text>
</g>
<g id="pb">
<path class="band" style="stroke-width:2.2" d="M256.6 18.4 L257.6 18.42 L258.6 18.45 L259.61 18.47 L260.61 18.49 L261.61 18.51 L262.61 18.54 L263.62 18.56 L264.62 18.58 L265.62 18.61 L266.62 18.63 L267.63 18.65 L268.63 18.68 L269.63 18.7 L270.63 18.73 L271.64 18.75 L272.64 18.77 L273.64 18.8 L274.64 18.82 L275.64 18.85 L276.65 18.87 L277.65 18.89 L278.65 18.92 L279.65 18.94 L280.66 18.97 L281.66 18.99 L282.66 19.02 L283.66 19.04 L284.67 19.07 L285.67 19.09 L286.67 19.12 L287.67 19.14 L288.68 19.17 L289.68 19.19 L290.68 19.22 L291.68 19.24 L292.69 19.27 L293.69 19.29 L294.69 19.32 L295.69 19.35 L296.69 19.37 L297.7 19.4 L298.7 19.43 L299.7 19.45 L300.7 19.48 L301.71 19.51 L302.71 19.53 L303.71 19.56 L304.71 19.59 L305.72 19.62 L306.72 19.64 L307.72 19.67 L308.72 19.7 L309.73 19.73 L310.73 19.75 L311.73 19.78 L312.73 19.81 L313.73 19.83 L314.74 19.86 L315.74 19.89 L316.74 19.91 L317.74 19.94 L318.75 19.97 L319.75 19.99 L320.75 20.02 L321.75 20.05 L322.76 20.07 L323.76 20.1 L324.76 20.13 L325.76 20.15 L326.77 20.18 L327.77 20.21 L328.77 20.24 L329.77 20.26 L330.78 20.29 L331.78 20.31 L332.78 20.34 L333.78 20.37 L334.78 20.39 L335.79 20.41 L336.79 20.44 L337.79 20.46 L338.79 20.48 L339.8 20.5 L340.8 20.52 L341.8 20.54 L342.8 20.56 L343.81 20.58 L344.81 20.6 L345.81 20.61 L346.81 20.63 L347.82 20.64"/>
<circle class="pt" cx="351.93" cy="20.92" r="0.95"/>
<circle class="pt" cx="359.94" cy="20.68" r="0.95"/>
<circle class="pt" cx="365.55" cy="20.78" r="0.95"/>
<circle class="pt" cx="365.63" cy="20.99" r="0.95"/>
<circle class="pt" cx="366.35" cy="20.73" r="0.95"/>
<circle class="pt" cx="351.36" cy="20.64" r="0.95"/>
<circle class="pt" cx="351.06" cy="21.05" r="0.95"/>
<circle class="pt" cx="348.84" cy="20.97" r="0.95"/>
<circle class="pt" cx="350.7" cy="20.81" r="0.95"/>
<circle class="pt" cx="348.8" cy="20.7" r="0.95"/>
<circle class="pt" cx="364.26" cy="20.6" r="0.95"/>
<circle class="pt" cx="348.18" cy="20.76" r="0.95"/>
<circle class="pt" cx="349.71" cy="20.67" r="0.95"/>
<circle class="pt" cx="364.46" cy="20.86" r="0.95"/>
<circle class="pt" cx="363.75" cy="20.69" r="0.95"/>
<circle class="pt" cx="370.99" cy="20.88" r="0.95"/>
<circle class="pt" cx="353.18" cy="20.65" r="0.95"/>
<circle class="pt" cx="348.17" cy="20.7" r="0.95"/>
<circle class="pt" cx="365.07" cy="21.14" r="0.95"/>
<circle class="pt" cx="351.24" cy="20.75" r="0.95"/>
<circle class="pt" cx="363.9" cy="20.45" r="0.95"/>
<circle class="pt" cx="348.04" cy="20.42" r="0.95"/>
<circle class="pt" cx="348.11" cy="20.29" r="0.95"/>
<circle class="pt" cx="358.55" cy="20.58" r="0.95"/>
<circle class="pt" cx="361.07" cy="20.9" r="0.95"/>
<circle class="pt" cx="357.54" cy="20.83" r="0.95"/>
<circle class="pt" cx="356.75" cy="20.6" r="0.95"/>
<circle class="pt" cx="358.52" cy="20.81" r="0.95"/>
<circle class="pt" cx="348.93" cy="20.48" r="0.95"/>
<circle class="pt" cx="348.29" cy="20.32" r="0.95"/>
<circle class="pt" cx="390.11" cy="21.53" r="0.85"/>
<circle class="pt" cx="388.44" cy="21.13" r="0.85"/>
<circle class="pt" cx="420.49" cy="21.53" r="0.85"/>
<circle class="pt" cx="402.35" cy="21.45" r="0.85"/>
<circle class="pt" cx="401.67" cy="21.18" r="0.85"/>
<circle class="pt" cx="383.56" cy="21.1" r="0.85"/>
<circle class="pt" cx="405.34" cy="21.27" r="0.85"/>
<circle class="pt" cx="391.72" cy="21.17" r="0.85"/>
<circle class="pt" cx="400.28" cy="21.38" r="0.85"/>
<circle class="pt" cx="392.68" cy="21.34" r="0.85"/>
<circle class="pt" cx="376.22" cy="21.24" r="0.85"/>
<circle class="pt" cx="417.64" cy="21.7" r="0.85"/>
<circle class="pt" cx="407.97" cy="21.63" r="0.85"/>
<circle class="pt" cx="421.83" cy="21.72" r="0.85"/>
<circle class="pt" cx="387.94" cy="21.19" r="0.85"/>
<circle class="pt" cx="386.63" cy="21.36" r="0.85"/>
<circle class="pt" cx="379.05" cy="21.08" r="0.85"/>
<circle class="pt" cx="387.9" cy="21.17" r="0.85"/>
<circle class="pt" cx="388.9" cy="21.44" r="0.85"/>
<circle class="pt" cx="381.57" cy="21.26" r="0.85"/>
<circle class="pt" cx="385.76" cy="21.24" r="0.85"/>
<circle class="pt" cx="387.29" cy="21.33" r="0.85"/>
<circle class="pt" cx="367" cy="20.9" r="0.95"/>
<circle class="pt" cx="371" cy="21" r="0.95"/>
<circle class="pt" cx="374.5" cy="21" r="0.95"/>
<circle class="pt" cx="378" cy="21.1" r="0.95"/>
<circle class="pt" cx="386.5" cy="21.1" r="0.95"/>
<circle class="pt" cx="389" cy="21.2" r="0.95"/>
<circle class="pt" cx="395.5" cy="21.2" r="0.95"/>
<circle class="pt" cx="398.5" cy="21.3" r="0.95"/>
<circle class="pt" cx="401" cy="21.4" r="0.95"/>
<circle class="pt" cx="404.5" cy="21.7" r="0.95"/>
<circle class="pt" cx="407" cy="21.9" r="0.95"/>
<circle class="pt" cx="409" cy="21.8" r="0.95"/>
<circle class="pt" cx="414" cy="21.5" r="0.95"/>
<circle class="pt" cx="417" cy="21.6" r="0.95"/>
<circle class="pt" cx="422.5" cy="21.8" r="0.95"/>
<circle class="pt" cx="425" cy="23" r="0.95"/>
<circle class="pt" cx="426.3" cy="24.2" r="0.95"/>
<circle class="pt" cx="443" cy="35.2" r="0.95"/>
<circle class="pt" cx="444.8" cy="34" r="0.95"/>
<path class="band" style="stroke-width:2.2" d="M257 126 L258 126.03 L259 126.06 L260 126.09 L261 126.12 L262 126.16 L263 126.19 L264 126.22 L265 126.26 L266 126.29 L267 126.32 L268 126.36 L269 126.4 L270 126.43 L271 126.47 L272 126.5 L273 126.54 L274 126.58 L275 126.62 L276 126.65 L277 126.69 L278 126.73 L279 126.77 L280 126.81 L281 126.85 L282 126.89 L283 126.92 L284 126.96 L285 127 L286 127.04 L287 127.08 L288 127.12 L289 127.16 L290 127.2 L291 127.24 L292 127.28 L293 127.33 L294 127.38 L295 127.43 L296 127.48 L297 127.53 L298 127.58 L299 127.64 L300 127.69 L301 127.75 L302 127.8 L303 127.86 L304 127.91 L305 127.96 L306 128.01 L307 128.06 L308 128.11 L309 128.16 L310 128.2 L311 128.23 L312 128.25 L313 128.26 L314 128.26 L315 128.25 L316 128.23 L317 128.21 L318 128.19 L319 128.17 L320 128.15 L321 128.14 L322 128.14 L323 128.15 L324 128.17 L325 128.2 L326 128.25 L327 128.3 L328 128.36 L329 128.42 L330 128.49 L331 128.57 L332 128.64 L333 128.72 L334 128.8 L335 128.89 L336 128.97 L337 129.05 L338 129.13 L339 129.21 L340 129.29 L341 129.36 L342 129.43 L343 129.49 L344 129.55 L345 129.6 L346 129.65 L347 129.69 L348 129.74 L349 129.78 L350 129.82 L351 129.86 L352 129.89 L353 129.92"/>
<circle class="pt" cx="371.04" cy="130.17" r="0.95"/>
<circle class="pt" cx="356.2" cy="130.05" r="0.95"/>
<circle class="pt" cx="365.63" cy="130.27" r="0.95"/>
<circle class="pt" cx="355.06" cy="129.72" r="0.95"/>
<circle class="pt" cx="370.45" cy="130.17" r="0.95"/>
<circle class="pt" cx="354.58" cy="129.84" r="0.95"/>
<circle class="pt" cx="353.01" cy="129.97" r="0.95"/>
<circle class="pt" cx="353.26" cy="130.02" r="0.95"/>
<circle class="pt" cx="358.46" cy="130.14" r="0.95"/>
<circle class="pt" cx="353.1" cy="129.82" r="0.95"/>
<circle class="pt" cx="371.41" cy="130.1" r="0.95"/>
<circle class="pt" cx="362.1" cy="129.79" r="0.95"/>
<circle class="pt" cx="360.7" cy="129.73" r="0.95"/>
<circle class="pt" cx="361.99" cy="130.13" r="0.95"/>
<circle class="pt" cx="357.71" cy="129.99" r="0.95"/>
<circle class="pt" cx="368.65" cy="129.73" r="0.95"/>
<circle class="pt" cx="364.05" cy="129.86" r="0.95"/>
<circle class="pt" cx="357.93" cy="130" r="0.95"/>
<circle class="pt" cx="378.19" cy="129.37" r="0.85"/>
<circle class="pt" cx="380.16" cy="129.6" r="0.85"/>
<circle class="pt" cx="390" cy="129.57" r="0.85"/>
<circle class="pt" cx="394.36" cy="129.38" r="0.85"/>
<circle class="pt" cx="394.98" cy="129.28" r="0.85"/>
<circle class="pt" cx="379.49" cy="129.64" r="0.85"/>
<circle class="pt" cx="385.81" cy="129.33" r="0.85"/>
<circle class="pt" cx="382.68" cy="129.54" r="0.85"/>
<circle class="pt" cx="363" cy="129.7" r="0.95"/>
<circle class="pt" cx="365" cy="129.6" r="0.95"/>
<circle class="pt" cx="369.5" cy="129.3" r="0.95"/>
<circle class="pt" cx="372" cy="129.3" r="0.95"/>
<circle class="pt" cx="376" cy="129.2" r="0.95"/>
<circle class="pt" cx="382.4" cy="129.4" r="0.95"/>
<circle class="pt" cx="387" cy="129.4" r="0.95"/>
<circle class="pt" cx="396" cy="129.2" r="0.95"/>
<circle class="pt" cx="408.6" cy="130" r="0.95"/>
<circle class="pt" cx="414.5" cy="129.7" r="0.95"/>
<circle class="pt" cx="417" cy="129.4" r="0.95"/>
<circle class="pt" cx="423" cy="130" r="0.95"/>
<circle class="pt" cx="431" cy="131" r="0.95"/>
<circle class="pt" cx="432.4" cy="133.6" r="0.95"/>
<circle class="pt" cx="436" cy="137.4" r="0.95"/>
<circle class="pt" cx="440.4" cy="142" r="0.95"/>
<path class="dot" d="M249.5 56.4 H452.5"/>
<path class="sol" d="M257 55.5 L258.51 55.66 L260.02 55.82 L261.53 55.97 L263.04 56.11 L264.54 56.25 L266.05 56.38 L267.56 56.51 L269.07 56.63 L270.58 56.74 L272.09 56.86 L273.6 56.96 L275.11 57.06 L276.61 57.14 L278.12 57.23 L279.63 57.3 L281.14 57.37 L282.65 57.42 L284.16 57.48 L285.67 57.52 L287.18 57.55 L288.68 57.58 L290.19 57.59 L291.7 57.59 L293.21 57.57 L294.72 57.54 L296.23 57.5 L297.74 57.43 L299.25 57.35 L300.76 57.25 L302.26 57.14 L303.77 57.03 L305.28 56.91 L306.79 56.79 L308.3 56.67 L309.81 56.54 L311.32 56.42 L312.83 56.3 L314.33 56.18 L315.84 56.06 L317.35 55.95 L318.86 55.84 L320.37 55.73 L321.88 55.62 L323.39 55.51 L324.9 55.41 L326.4 55.3 L327.91 55.2 L329.42 55.11 L330.93 55.02 L332.44 54.93 L333.95 54.86 L335.46 54.81 L336.97 54.79 L338.48 54.8 L339.98 54.82 L341.49 54.86 L343 54.92 L344.51 54.98 L346.02 55.05 L347.53 55.12 L349.04 55.2 L350.55 55.29 L352.05 55.38 L353.56 55.48 L355.07 55.59 L356.58 55.7 L358.09 55.81 L359.6 55.92 L361.11 56.02 L362.62 56.13 L364.12 56.25 L365.63 56.4 L367.14 56.57 L368.65 56.78 L370.16 57.03 L371.67 57.3 L373.18 57.59 L374.69 57.87 L376.2 58.17 L377.7 58.46 L379.21 58.77 L380.72 59.07 L382.23 59.38 L383.74 59.69 L385.25 60.01 L386.76 60.32 L388.27 60.64 L389.77 60.95 L391.28 61.27 L392.79 61.58 L394.3 61.89 L395.81 62.21 L397.32 62.52 L398.83 62.83 L400.34 63.15 L401.84 63.46 L403.35 63.78 L404.86 64.1 L406.37 64.42 L407.88 64.74 L409.39 65.07 L410.9 65.4 L412.41 65.73 L413.92 66.06 L415.42 66.39 L416.93 66.72 L418.44 67.06 L419.95 67.39 L421.46 67.72 L422.97 68.06 L424.48 68.39 L425.99 68.72 L427.49 69.05 L429 69.38 L430.51 69.71 L432.02 70.04 L433.53 70.37 L435.04 70.7 L436.55 71.03 L438.06 71.36 L439.56 71.69 L441.07 72.02 L442.58 72.34 L444.09 72.67 L445.6 73"/>
<path class="dsh" d="M257 43.6 L258.5 44.62 L260.01 45.56 L261.51 46.44 L263.02 47.24 L264.52 47.98 L266.02 48.67 L267.53 49.33 L269.03 49.96 L270.54 50.54 L272.04 51.04 L273.54 51.46 L275.05 51.78 L276.55 51.97 L278.06 52.06 L279.56 52.12 L281.07 52.18 L282.57 52.22 L284.07 52.26 L285.58 52.28 L287.08 52.29 L288.59 52.29 L290.09 52.28 L291.59 52.27 L293.1 52.24 L294.6 52.21 L296.11 52.17 L297.61 52.14 L299.11 52.11 L300.62 52.08 L302.12 52.04 L303.63 52 L305.13 51.96 L306.63 51.91 L308.14 51.86 L309.64 51.79 L311.15 51.71 L312.65 51.62 L314.15 51.52 L315.66 51.38 L317.16 51.23 L318.67 51.07 L320.17 50.89 L321.67 50.71 L323.18 50.53 L324.68 50.35 L326.19 50.17 L327.69 50.01 L329.2 49.87 L330.7 49.74 L332.2 49.62 L333.71 49.51 L335.21 49.4 L336.72 49.29 L338.22 49.2 L339.72 49.13 L341.23 49.06 L342.73 49.02 L344.24 49 L345.74 49 L347.24 49.02 L348.75 49.04 L350.25 49.07 L351.76 49.11 L353.26 49.15 L354.76 49.2 L356.27 49.26 L357.77 49.31 L359.28 49.37 L360.78 49.43 L362.28 49.5 L363.79 49.58 L365.29 49.66 L366.8 49.75 L368.3 49.84 L369.8 49.93 L371.31 50.02 L372.81 50.11 L374.32 50.18 L375.82 50.26 L377.33 50.32 L378.83 50.37 L380.33 50.41 L381.84 50.43 L383.34 50.42 L384.85 50.41 L386.35 50.38 L387.85 50.33 L389.36 50.28 L390.86 50.21 L392.37 50.14 L393.87 50.06 L395.37 49.98 L396.88 49.9 L398.38 49.81 L399.89 49.73 L401.39 49.64 L402.89 49.54 L404.4 49.44 L405.9 49.34 L407.41 49.22 L408.91 49.1 L410.41 48.96 L411.92 48.82 L413.42 48.68 L414.93 48.54 L416.43 48.39 L417.93 48.25 L419.44 48.1 L420.94 47.95 L422.45 47.79 L423.95 47.64 L425.46 47.48 L426.96 47.31 L428.46 47.15 L429.97 46.98 L431.47 46.82 L432.98 46.65 L434.48 46.48 L435.98 46.31 L437.49 46.13 L438.99 45.96 L440.5 45.78 L442 45.6"/>
<path class="dsh" d="M257 66 L258.51 65.52 L260.02 65.08 L261.53 64.66 L263.04 64.25 L264.54 63.86 L266.05 63.46 L267.56 63.09 L269.07 62.8 L270.58 62.62 L272.09 62.56 L273.6 62.54 L275.11 62.54 L276.61 62.56 L278.12 62.59 L279.63 62.63 L281.14 62.68 L282.65 62.72 L284.16 62.8 L285.67 62.9 L287.18 63.01 L288.68 63.1 L290.19 63.16 L291.7 63.16 L293.21 63.08 L294.72 62.97 L296.23 62.85 L297.74 62.71 L299.25 62.57 L300.76 62.43 L302.26 62.28 L303.77 62.13 L305.28 61.97 L306.79 61.82 L308.3 61.67 L309.81 61.52 L311.32 61.37 L312.83 61.22 L314.33 61.06 L315.84 60.9 L317.35 60.74 L318.86 60.59 L320.37 60.43 L321.88 60.28 L323.39 60.14 L324.9 60.01 L326.4 59.91 L327.91 59.88 L329.42 59.9 L330.93 59.96 L332.44 60.06 L333.95 60.19 L335.46 60.34 L336.97 60.5 L338.48 60.65 L339.98 60.8 L341.49 60.94 L343 61.08 L344.51 61.23 L346.02 61.38 L347.53 61.54 L349.04 61.71 L350.55 61.88 L352.05 62.07 L353.56 62.28 L355.07 62.51 L356.58 62.77 L358.09 63.04 L359.6 63.32 L361.11 63.62 L362.62 63.92 L364.12 64.23 L365.63 64.56 L367.14 64.9 L368.65 65.25 L370.16 65.61 L371.67 65.98 L373.18 66.36 L374.69 66.75 L376.2 67.15 L377.7 67.56 L379.21 67.98 L380.72 68.41 L382.23 68.85 L383.74 69.31 L385.25 69.8 L386.76 70.3 L388.27 70.83 L389.77 71.38 L391.28 71.96 L392.79 72.58 L394.3 73.22 L395.81 73.9 L397.32 74.62 L398.83 75.38 L400.34 76.18 L401.84 77 L403.35 77.82 L404.86 78.65 L406.37 79.48 L407.88 80.32 L409.39 81.15 L410.9 81.99 L412.41 82.83 L413.92 83.66 L415.42 84.5 L416.93 85.33 L418.44 86.15 L419.95 86.97 L421.46 87.79 L422.97 88.6 L424.48 89.41 L425.99 90.21 L427.49 91.02 L429 91.83 L430.51 92.65 L432.02 93.46 L433.53 94.29 L435.04 95.14 L436.55 96.02 L438.06 96.91 L439.56 97.82 L441.07 98.75 L442.58 99.69 L444.09 100.64 L445.6 101.6"/>
<path class="box" d="M249.5 12.8 V147.3 M452.5 12.8 V147.3 M249.2 13.1 H452.8 M249.2 147.1 H452.8"/>
<text class="title" x="351" y="8.2">sex</text>
<path class="tick" d="M269.1 147 V149.1"/>
<text class="tl" x="269.1" y="156.3">0.03</text>
<path class="tick" d="M292.5 147 V149.1"/>
<text class="tl" x="292.5" y="156.3">0.84</text>
<path class="tick" d="M315.8 147 V149.1"/>
<text class="tl" x="315.8" y="156.3">2.4</text>
<path class="tick" d="M339.8 147 V149.1"/>
<text class="tl" x="339.8" y="156.3">4.9</text>
<path class="tick" d="M360.4 147 V149.1"/>
<text class="tl" x="360.4" y="156.3">6.2</text>
<path class="tick" d="M383.5 147 V149.1"/>
<text class="tl" x="383.5" y="156.3">6.6</text>
<path class="tick" d="M408.5 147 V149.1"/>
<text class="tl" x="408.5" y="156.3">7.1</text>
<path class="tick" d="M433.5 147 V149.1"/>
<text class="tl" x="433.5" y="156.3">7.6</text>
<path class="tick" d="M249.5 27 H247.1"/>
<text class="tl" transform="translate(244.9 27) rotate(-90)">1</text>
<path class="tick" d="M249.5 51.6 H247.1"/>
<text class="tl" transform="translate(244.9 51.6) rotate(-90)">0</text>
<path class="tick" d="M249.5 76 H247.1"/>
<text class="tl" transform="translate(244.9 76) rotate(-90)">-1</text>
<path class="tick" d="M249.5 100 H247.1"/>
<text class="tl" transform="translate(244.9 100) rotate(-90)">-2</text>
<path class="tick" d="M249.5 123.6 H247.1"/>
<text class="tl" transform="translate(244.9 123.6) rotate(-90)">-3</text>
<text class="al" x="351.3" y="167">Time (years)</text>
<text class="al yl" transform="translate(238.9 80.15) rotate(-90)">Beta(t)</text>
<text class="lt" x="249.5" y="167">b</text>
</g>
<g id="pc">
<path class="band" style="stroke-width:2.2" d="M488.6 41 L489.6 40.93 L490.61 40.85 L491.61 40.77 L492.61 40.69 L493.61 40.6 L494.62 40.51 L495.62 40.42 L496.62 40.33 L497.63 40.23 L498.63 40.13 L499.63 40.02 L500.63 39.91 L501.64 39.8 L502.64 39.68 L503.64 39.57 L504.65 39.44 L505.65 39.32 L506.65 39.19 L507.65 39.06 L508.66 38.93 L509.66 38.8 L510.66 38.66 L511.67 38.52 L512.67 38.38 L513.67 38.23 L514.67 38.08 L515.68 37.92 L516.68 37.76 L517.68 37.59 L518.69 37.42 L519.69 37.24 L520.69 37.06 L521.69 36.87 L522.7 36.67 L523.7 36.47 L524.7 36.27 L525.7 36.07 L526.71 35.86 L527.71 35.66 L528.71 35.45 L529.72 35.25 L530.72 35.04 L531.72 34.85 L532.72 34.65 L533.73 34.46 L534.73 34.28 L535.73 34.09 L536.74 33.91 L537.74 33.73 L538.74 33.55 L539.74 33.37 L540.75 33.19 L541.75 33.01 L542.75 32.83 L543.76 32.64 L544.76 32.45 L545.76 32.25 L546.76 32.05 L547.77 31.84 L548.77 31.64 L549.77 31.42 L550.78 31.21 L551.78 31 L552.78 30.78 L553.78 30.57 L554.79 30.36 L555.79 30.15 L556.79 29.94 L557.8 29.74 L558.8 29.54 L559.8 29.35 L560.8 29.16 L561.81 28.97 L562.81 28.78 L563.81 28.6 L564.82 28.41 L565.82 28.23 L566.82 28.05 L567.82 27.87 L568.83 27.69 L569.83 27.51 L570.83 27.33 L571.84 27.15 L572.84 26.97 L573.84 26.8 L574.84 26.63 L575.85 26.46 L576.85 26.3 L577.85 26.14 L578.86 25.99 L579.86 25.84 L580.86 25.7 L581.86 25.56 L582.87 25.43"/>
<circle class="pt" cx="591.3" cy="24.64" r="0.95"/>
<circle class="pt" cx="599.05" cy="24.57" r="0.95"/>
<circle class="pt" cx="587.1" cy="25.1" r="0.95"/>
<circle class="pt" cx="599.47" cy="25.27" r="0.95"/>
<circle class="pt" cx="585.51" cy="25.32" r="0.95"/>
<circle class="pt" cx="583.02" cy="25.52" r="0.95"/>
<circle class="pt" cx="583.47" cy="25.03" r="0.95"/>
<circle class="pt" cx="592.99" cy="24.79" r="0.95"/>
<circle class="pt" cx="586.85" cy="24.85" r="0.95"/>
<circle class="pt" cx="596.45" cy="24.94" r="0.95"/>
<circle class="pt" cx="589.58" cy="24.87" r="0.95"/>
<circle class="pt" cx="592.84" cy="24.81" r="0.95"/>
<circle class="pt" cx="586.4" cy="25.1" r="0.95"/>
<circle class="pt" cx="590.68" cy="24.75" r="0.95"/>
<circle class="pt" cx="593.13" cy="24.49" r="0.95"/>
<circle class="pt" cx="586.78" cy="25.2" r="0.95"/>
<circle class="pt" cx="588.76" cy="24.68" r="0.95"/>
<circle class="pt" cx="596.71" cy="24.55" r="0.95"/>
<circle class="pt" cx="599.01" cy="24.73" r="0.95"/>
<circle class="pt" cx="586.36" cy="24.97" r="0.95"/>
<circle class="pt" cx="583.24" cy="25.4" r="0.95"/>
<circle class="pt" cx="596.67" cy="24.99" r="0.95"/>
<circle class="pt" cx="601.5" cy="24.8" r="0.95"/>
<circle class="pt" cx="603.5" cy="24.8" r="0.95"/>
<circle class="pt" cx="606.5" cy="24.9" r="0.95"/>
<circle class="pt" cx="609.5" cy="25" r="0.95"/>
<circle class="pt" cx="611.5" cy="25" r="0.95"/>
<circle class="pt" cx="619" cy="24.5" r="0.95"/>
<circle class="pt" cx="630" cy="24.3" r="0.95"/>
<circle class="pt" cx="632" cy="24" r="0.95"/>
<circle class="pt" cx="637" cy="23" r="0.95"/>
<circle class="pt" cx="640" cy="21.2" r="0.95"/>
<circle class="pt" cx="646" cy="20.7" r="0.95"/>
<circle class="pt" cx="648.3" cy="20.4" r="0.95"/>
<circle class="pt" cx="655" cy="19" r="0.95"/>
<circle class="pt" cx="657.6" cy="18.4" r="0.95"/>
<path class="band" style="stroke-width:2.2" d="M488.6 142 L489.6 141.91 L490.61 141.81 L491.61 141.71 L492.61 141.61 L493.62 141.51 L494.62 141.4 L495.62 141.3 L496.62 141.19 L497.63 141.08 L498.63 140.96 L499.63 140.85 L500.64 140.73 L501.64 140.61 L502.64 140.49 L503.65 140.37 L504.65 140.24 L505.65 140.12 L506.65 139.99 L507.66 139.86 L508.66 139.73 L509.66 139.59 L510.67 139.46 L511.67 139.32 L512.67 139.18 L513.68 139.04 L514.68 138.89 L515.68 138.75 L516.68 138.6 L517.69 138.45 L518.69 138.29 L519.69 138.14 L520.7 137.98 L521.7 137.81 L522.7 137.65 L523.71 137.48 L524.71 137.3 L525.71 137.12 L526.71 136.94 L527.72 136.75 L528.72 136.56 L529.72 136.37 L530.73 136.18 L531.73 135.99 L532.73 135.8 L533.74 135.62 L534.74 135.45 L535.74 135.28 L536.74 135.11 L537.75 134.96 L538.75 134.81 L539.75 134.66 L540.76 134.51 L541.76 134.36 L542.76 134.21 L543.77 134.06 L544.77 133.89 L545.77 133.72 L546.77 133.54 L547.78 133.35 L548.78 133.16 L549.78 132.96 L550.79 132.77 L551.79 132.57 L552.79 132.37 L553.8 132.17 L554.8 131.96 L555.8 131.76 L556.8 131.55 L557.81 131.35 L558.81 131.14 L559.81 130.94 L560.82 130.73 L561.82 130.52 L562.82 130.32 L563.83 130.1 L564.83 129.89 L565.83 129.68 L566.83 129.47 L567.84 129.26 L568.84 129.05 L569.84 128.84 L570.85 128.63 L571.85 128.43 L572.85 128.23 L573.86 128.04 L574.86 127.86 L575.86 127.68 L576.86 127.52 L577.87 127.37 L578.87 127.24 L579.87 127.12"/>
<circle class="pt" cx="580.04" cy="127.01" r="0.95"/>
<circle class="pt" cx="580.03" cy="127.4" r="0.95"/>
<circle class="pt" cx="589.66" cy="126.92" r="0.95"/>
<circle class="pt" cx="583.44" cy="126.79" r="0.95"/>
<circle class="pt" cx="596.09" cy="126.6" r="0.95"/>
<circle class="pt" cx="584.47" cy="126.64" r="0.95"/>
<circle class="pt" cx="592.46" cy="126.21" r="0.95"/>
<circle class="pt" cx="582.12" cy="126.45" r="0.95"/>
<circle class="pt" cx="589.54" cy="126.68" r="0.95"/>
<circle class="pt" cx="596.92" cy="126.13" r="0.95"/>
<circle class="pt" cx="595.77" cy="126.71" r="0.95"/>
<circle class="pt" cx="584.01" cy="126.84" r="0.95"/>
<circle class="pt" cx="586.22" cy="126.68" r="0.95"/>
<circle class="pt" cx="587.36" cy="126.22" r="0.95"/>
<circle class="pt" cx="583.64" cy="127.09" r="0.95"/>
<circle class="pt" cx="586.26" cy="126.57" r="0.95"/>
<circle class="pt" cx="598.88" cy="126.1" r="0.95"/>
<circle class="pt" cx="596.3" cy="125.79" r="0.95"/>
<circle class="pt" cx="583.14" cy="127.01" r="0.95"/>
<circle class="pt" cx="590.89" cy="126.63" r="0.95"/>
<circle class="pt" cx="598.38" cy="126.03" r="0.95"/>
<circle class="pt" cx="583.94" cy="126.79" r="0.95"/>
<circle class="pt" cx="595.38" cy="126.34" r="0.95"/>
<circle class="pt" cx="593.92" cy="126.51" r="0.95"/>
<circle class="pt" cx="596.5" cy="126.24" r="0.95"/>
<circle class="pt" cx="580.38" cy="127.39" r="0.95"/>
<circle class="pt" cx="600" cy="126" r="0.95"/>
<circle class="pt" cx="601.5" cy="126" r="0.95"/>
<circle class="pt" cx="603" cy="125.9" r="0.95"/>
<circle class="pt" cx="605" cy="125.9" r="0.95"/>
<circle class="pt" cx="606.5" cy="125.9" r="0.95"/>
<circle class="pt" cx="608.5" cy="126" r="0.95"/>
<circle class="pt" cx="610" cy="126" r="0.95"/>
<circle class="pt" cx="611.5" cy="126" r="0.95"/>
<circle class="pt" cx="613" cy="126" r="0.95"/>
<circle class="pt" cx="615" cy="125.9" r="0.95"/>
<circle class="pt" cx="616.5" cy="125.9" r="0.95"/>
<circle class="pt" cx="618.5" cy="125.8" r="0.95"/>
<circle class="pt" cx="620" cy="125.8" r="0.95"/>
<circle class="pt" cx="621.5" cy="125.8" r="0.95"/>
<circle class="pt" cx="627.5" cy="125.5" r="0.95"/>
<circle class="pt" cx="629" cy="125.3" r="0.95"/>
<circle class="pt" cx="640.4" cy="122.4" r="0.95"/>
<circle class="pt" cx="646.6" cy="122" r="0.95"/>
<circle class="pt" cx="657" cy="119.6" r="0.95"/>
<circle class="pt" cx="660" cy="118.6" r="0.95"/>
<circle class="pt" cx="663" cy="117.4" r="0.95"/>
<circle class="pt" cx="668" cy="115" r="0.95"/>
<circle class="pt" cx="673" cy="113.6" r="0.95"/>
<circle class="pt" cx="674.4" cy="115.4" r="0.95"/>
<circle class="pt" cx="677" cy="124.2" r="0.95"/>
<path class="dot" d="M481.5 64.4 H684.5"/>
<path class="sol" d="M488.6 59.6 L490.11 59.51 L491.61 59.42 L493.12 59.34 L494.63 59.26 L496.14 59.18 L497.64 59.11 L499.15 59.04 L500.66 58.97 L502.16 58.9 L503.67 58.84 L505.18 58.78 L506.69 58.73 L508.19 58.69 L509.7 58.66 L511.21 58.63 L512.72 58.61 L514.22 58.6 L515.73 58.61 L517.24 58.66 L518.74 58.76 L520.25 58.91 L521.76 59.1 L523.27 59.32 L524.77 59.56 L526.28 59.82 L527.79 60.09 L529.29 60.38 L530.8 60.67 L532.31 60.99 L533.82 61.32 L535.32 61.68 L536.83 62.05 L538.34 62.43 L539.84 62.82 L541.35 63.21 L542.86 63.59 L544.37 63.97 L545.87 64.34 L547.38 64.69 L548.89 65.03 L550.4 65.37 L551.9 65.71 L553.41 66.05 L554.92 66.38 L556.42 66.71 L557.93 67.05 L559.44 67.38 L560.95 67.71 L562.45 68.03 L563.96 68.36 L565.47 68.68 L566.97 68.99 L568.48 69.3 L569.99 69.6 L571.5 69.89 L573 70.18 L574.51 70.47 L576.02 70.75 L577.52 71.03 L579.03 71.31 L580.54 71.59 L582.05 71.87 L583.55 72.15 L585.06 72.44 L586.57 72.72 L588.08 73.01 L589.58 73.31 L591.09 73.61 L592.6 73.91 L594.1 74.22 L595.61 74.53 L597.12 74.84 L598.63 75.15 L600.13 75.45 L601.64 75.76 L603.15 76.06 L604.65 76.36 L606.16 76.65 L607.67 76.94 L609.18 77.22 L610.68 77.49 L612.19 77.75 L613.7 78 L615.2 78.25 L616.71 78.5 L618.22 78.73 L619.73 78.97 L621.23 79.2 L622.74 79.42 L624.25 79.65 L625.76 79.87 L627.26 80.09 L628.77 80.31 L630.28 80.53 L631.78 80.75 L633.29 80.97 L634.8 81.19 L636.31 81.4 L637.81 81.62 L639.32 81.83 L640.83 82.04 L642.33 82.25 L643.84 82.45 L645.35 82.65 L646.86 82.85 L648.36 83.05 L649.87 83.24 L651.38 83.43 L652.88 83.62 L654.39 83.81 L655.9 83.99 L657.41 84.18 L658.91 84.36 L660.42 84.54 L661.93 84.72 L663.44 84.89 L664.94 85.07 L666.45 85.24 L667.96 85.41 L669.46 85.58 L670.97 85.75 L672.48 85.91 L673.99 86.08 L675.49 86.24 L677 86.4"/>
<path class="dsh" d="M488.6 49.6 L490.11 50.06 L491.62 50.5 L493.13 50.93 L494.65 51.33 L496.16 51.73 L497.67 52.12 L499.18 52.5 L500.69 52.86 L502.2 53.2 L503.71 53.5 L505.22 53.76 L506.74 53.97 L508.25 54.11 L509.76 54.19 L511.27 54.22 L512.78 54.22 L514.29 54.21 L515.8 54.18 L517.31 54.09 L518.83 53.97 L520.34 53.86 L521.85 53.79 L523.36 53.82 L524.87 53.94 L526.38 54.14 L527.89 54.43 L529.4 54.77 L530.92 55.18 L532.43 55.61 L533.94 56.05 L535.45 56.5 L536.96 56.96 L538.47 57.43 L539.98 57.92 L541.5 58.43 L543.01 58.95 L544.52 59.47 L546.03 59.97 L547.54 60.46 L549.05 60.91 L550.56 61.33 L552.07 61.72 L553.59 62.08 L555.1 62.42 L556.61 62.74 L558.12 63.06 L559.63 63.37 L561.14 63.67 L562.65 63.97 L564.16 64.27 L565.68 64.56 L567.19 64.85 L568.7 65.13 L570.21 65.41 L571.72 65.69 L573.23 65.96 L574.74 66.23 L576.25 66.5 L577.77 66.76 L579.28 67.01 L580.79 67.27 L582.3 67.51 L583.81 67.76 L585.32 67.99 L586.83 68.22 L588.35 68.45 L589.86 68.66 L591.37 68.85 L592.88 69.02 L594.39 69.18 L595.9 69.32 L597.41 69.44 L598.92 69.55 L600.44 69.65 L601.95 69.74 L603.46 69.81 L604.97 69.88 L606.48 69.94 L607.99 70 L609.5 70.05 L611.01 70.08 L612.53 70.11 L614.04 70.12 L615.55 70.12 L617.06 70.1 L618.57 70.08 L620.08 70.04 L621.59 69.98 L623.1 69.92 L624.62 69.83 L626.13 69.74 L627.64 69.63 L629.15 69.5 L630.66 69.37 L632.17 69.23 L633.68 69.07 L635.2 68.9 L636.71 68.72 L638.22 68.53 L639.73 68.33 L641.24 68.12 L642.75 67.89 L644.26 67.65 L645.77 67.4 L647.29 67.13 L648.8 66.85 L650.31 66.56 L651.82 66.27 L653.33 65.97 L654.84 65.66 L656.35 65.35 L657.86 65.02 L659.38 64.68 L660.89 64.34 L662.4 63.99 L663.91 63.62 L665.42 63.25 L666.93 62.87 L668.44 62.48 L669.95 62.08 L671.47 61.68 L672.98 61.26 L674.49 60.84 L676 60.4"/>
<path class="dsh" d="M488.6 69.6 L490.11 68.95 L491.61 68.33 L493.12 67.73 L494.63 67.14 L496.14 66.56 L497.64 66.02 L499.15 65.52 L500.66 65.09 L502.16 64.74 L503.67 64.47 L505.18 64.28 L506.69 64.14 L508.19 64.06 L509.7 64.02 L511.21 64 L512.72 64 L514.22 64.01 L515.73 64.04 L517.24 64.09 L518.74 64.18 L520.25 64.3 L521.76 64.43 L523.27 64.58 L524.77 64.74 L526.28 64.91 L527.79 65.1 L529.29 65.28 L530.8 65.47 L532.31 65.67 L533.82 65.87 L535.32 66.09 L536.83 66.33 L538.34 66.59 L539.84 66.88 L541.35 67.2 L542.86 67.56 L544.37 67.95 L545.87 68.34 L547.38 68.74 L548.89 69.14 L550.4 69.54 L551.9 69.95 L553.41 70.35 L554.92 70.77 L556.42 71.18 L557.93 71.59 L559.44 72.01 L560.95 72.43 L562.45 72.85 L563.96 73.27 L565.47 73.69 L566.97 74.11 L568.48 74.53 L569.99 74.96 L571.5 75.38 L573 75.81 L574.51 76.23 L576.02 76.66 L577.52 77.08 L579.03 77.5 L580.54 77.92 L582.05 78.34 L583.55 78.75 L585.06 79.16 L586.57 79.56 L588.08 79.96 L589.58 80.34 L591.09 80.73 L592.6 81.11 L594.1 81.49 L595.61 81.86 L597.12 82.24 L598.63 82.61 L600.13 82.99 L601.64 83.37 L603.15 83.75 L604.65 84.13 L606.16 84.52 L607.67 84.91 L609.18 85.31 L610.68 85.72 L612.19 86.13 L613.7 86.55 L615.2 86.98 L616.71 87.41 L618.22 87.86 L619.73 88.31 L621.23 88.78 L622.74 89.25 L624.25 89.74 L625.76 90.24 L627.26 90.75 L628.77 91.27 L630.28 91.81 L631.78 92.36 L633.29 92.93 L634.8 93.51 L636.31 94.1 L637.81 94.7 L639.32 95.31 L640.83 95.94 L642.33 96.57 L643.84 97.21 L645.35 97.85 L646.86 98.5 L648.36 99.16 L649.87 99.82 L651.38 100.48 L652.88 101.14 L654.39 101.8 L655.9 102.47 L657.41 103.14 L658.91 103.82 L660.42 104.5 L661.93 105.19 L663.44 105.88 L664.94 106.57 L666.45 107.27 L667.96 107.98 L669.46 108.69 L670.97 109.42 L672.48 110.15 L673.99 110.89 L675.49 111.64 L677 112.4"/>
<path class="box" d="M481.5 12.8 V147.3 M684.5 12.8 V147.3 M481.2 13.1 H684.8 M481.2 147.1 H684.8"/>
<text class="title" x="583" y="8.2">chf</text>
<path class="tick" d="M501.1 147 V149.1"/>
<text class="tl" x="501.1" y="156.3">0.03</text>
<path class="tick" d="M524.5 147 V149.1"/>
<text class="tl" x="524.5" y="156.3">0.84</text>
<path class="tick" d="M547.8 147 V149.1"/>
<text class="tl" x="547.8" y="156.3">2.4</text>
<path class="tick" d="M571.8 147 V149.1"/>
<text class="tl" x="571.8" y="156.3">4.9</text>
<path class="tick" d="M592.4 147 V149.1"/>
<text class="tl" x="592.4" y="156.3">6.2</text>
<path class="tick" d="M615.5 147 V149.1"/>
<text class="tl" x="615.5" y="156.3">6.6</text>
<path class="tick" d="M640.5 147 V149.1"/>
<text class="tl" x="640.5" y="156.3">7.1</text>
<path class="tick" d="M665.5 147 V149.1"/>
<text class="tl" x="665.5" y="156.3">7.6</text>
<path class="tick" d="M481.5 24 H479.1"/>
<text class="tl" transform="translate(476.9 24) rotate(-90)">3</text>
<path class="tick" d="M481.5 45.4 H479.1"/>
<text class="tl" transform="translate(476.9 45.4) rotate(-90)">2</text>
<path class="tick" d="M481.5 66.4 H479.1"/>
<text class="tl" transform="translate(476.9 66.4) rotate(-90)">1</text>
<path class="tick" d="M481.5 87.6 H479.1"/>
<text class="tl" transform="translate(476.9 87.6) rotate(-90)">0</text>
<path class="tick" d="M481.5 109 H479.1"/>
<text class="tl" transform="translate(476.9 109) rotate(-90)">-1</text>
<path class="tick" d="M481.5 130.4 H479.1"/>
<text class="tl" transform="translate(476.9 130.4) rotate(-90)">-2</text>
<text class="al" x="583.3" y="167">Time (years)</text>
<text class="al yl" transform="translate(470.9 80.15) rotate(-90)">Beta(t)</text>
<text class="lt" x="481.5" y="167">c</text>
</g>
<g id="pd">
<circle class="pt" cx="25.2" cy="201" r="0.7"/>
<path class="band" style="stroke-width:1.7" d="M27 201 L28 200.97 L29 200.94 L30 200.91 L31 200.88 L32 200.85 L33 200.82 L34 200.79 L35 200.76 L36 200.73 L37 200.7 L38 200.66 L39 200.63 L40 200.6 L41 200.57 L42 200.54 L43 200.5 L44 200.47 L45 200.43 L46 200.4 L47 200.36 L48 200.33 L49 200.29 L50 200.25 L51 200.21 L52 200.17 L53 200.13 L54 200.09 L55 200.04 L56 200 L57 199.95 L58 199.89 L59 199.83 L60 199.75 L61 199.68 L62 199.59 L63 199.5 L64 199.41 L65 199.31 L66 199.21 L67 199.11 L68 199.01 L69 198.9 L70 198.8 L71 198.69 L72 198.57 L73 198.45 L74 198.33 L75 198.2 L76 198.07 L77 197.95 L78 197.82 L79 197.71 L80 197.6 L81 197.5 L82 197.42 L83 197.34 L84 197.27 L85 197.2 L86 197.13 L87 197.06 L88 196.98 L89 196.9 L90 196.8 L91 196.68 L92 196.54 L93 196.39 L94 196.25 L95 196.11 L96 196 L97 195.91 L98 195.82 L99 195.74 L100 195.66 L101 195.59 L102 195.52 L103 195.46 L104 195.4 L105 195.35 L106 195.29 L107 195.24 L108 195.19 L109 195.14 L110 195.09 L111 195.05 L112 195 L113 194.96"/>
<circle class="pt" cx="118.35" cy="194.74" r="0.9"/>
<circle class="pt" cx="118.69" cy="194.56" r="0.9"/>
<circle class="pt" cx="114.2" cy="194.94" r="0.9"/>
<circle class="pt" cx="113.27" cy="194.63" r="0.9"/>
<circle class="pt" cx="117.96" cy="194.67" r="0.9"/>
<circle class="pt" cx="117.39" cy="194.82" r="0.9"/>
<circle class="pt" cx="123.5" cy="194.6" r="0.95"/>
<circle class="pt" cx="125.5" cy="194.2" r="0.95"/>
<circle class="pt" cx="131" cy="194.4" r="0.95"/>
<circle class="pt" cx="135.6" cy="194.4" r="0.95"/>
<circle class="pt" cx="137.8" cy="194.4" r="0.95"/>
<circle class="pt" cx="139.4" cy="194.4" r="0.95"/>
<circle class="pt" cx="157" cy="195.2" r="0.95"/>
<circle class="pt" cx="200.4" cy="194.8" r="0.95"/>
<path class="band" style="stroke-width:2.2" d="M25 306.6 L26 306.58 L27 306.56 L28 306.53 L29 306.51 L30 306.49 L31 306.46 L32 306.43 L33 306.4 L34 306.38 L35 306.35 L36 306.32 L37 306.29 L38 306.26 L39 306.23 L40 306.2 L41 306.17 L42 306.15 L43 306.12 L44 306.09 L45 306.06 L46 306.03 L47 305.99 L48 305.93 L49 305.87 L50 305.8 L51 305.72 L52 305.64 L53 305.56 L54 305.48 L55 305.4 L56 305.32 L57 305.24 L58 305.16 L59 305.08 L60 305 L61 304.92 L62 304.84 L63 304.76 L64 304.68 L65 304.6 L66 304.52 L67 304.44 L68 304.36 L69 304.28 L70 304.2 L71 304.12 L72 304.04 L73 303.96 L74 303.88 L75 303.8 L76 303.72 L77 303.64 L78 303.56 L79 303.48 L80 303.4 L81 303.32 L82 303.22 L83 303.12 L84 303.02 L85 302.91 L86 302.8 L87 302.7 L88 302.59 L89 302.49 L90 302.4 L91 302.31 L92 302.23 L93 302.15 L94 302.07 L95 301.99 L96 301.92 L97 301.84 L98 301.76 L99 301.68 L100 301.6 L101 301.51 L102 301.41 L103 301.31 L104 301.2 L105 301.09 L106 300.99 L107 300.89 L108 300.8 L109 300.72 L110 300.65 L111 300.59 L112 300.54 L113 300.5 L114 300.46 L115 300.43 L116 300.4 L117 300.37"/>
<circle class="pt" cx="117.36" cy="300.49" r="0.85"/>
<circle class="pt" cx="119.53" cy="300.6" r="0.85"/>
<circle class="pt" cx="125.01" cy="300.22" r="0.85"/>
<circle class="pt" cx="117.95" cy="300.32" r="0.85"/>
<circle class="pt" cx="120.45" cy="300.47" r="0.85"/>
<circle class="pt" cx="128.48" cy="300.32" r="0.85"/>
<circle class="pt" cx="150.03" cy="300.35" r="0.85"/>
<circle class="pt" cx="151.51" cy="300.46" r="0.85"/>
<circle class="pt" cx="127.13" cy="300.13" r="0.85"/>
<circle class="pt" cx="118.56" cy="300.5" r="0.85"/>
<circle class="pt" cx="122.27" cy="300.5" r="0.85"/>
<circle class="pt" cx="139.92" cy="300.2" r="0.85"/>
<circle class="pt" cx="127.22" cy="300.65" r="0.85"/>
<circle class="pt" cx="134.51" cy="299.85" r="0.85"/>
<circle class="pt" cx="143.38" cy="300.19" r="0.85"/>
<circle class="pt" cx="139.05" cy="300.57" r="0.85"/>
<circle class="pt" cx="150.75" cy="300.34" r="0.85"/>
<circle class="pt" cx="117.84" cy="300" r="0.85"/>
<circle class="pt" cx="123.16" cy="300.59" r="0.85"/>
<circle class="pt" cx="117.19" cy="300.49" r="0.85"/>
<circle class="pt" cx="132.16" cy="299.94" r="0.85"/>
<circle class="pt" cx="136.74" cy="300.36" r="0.85"/>
<circle class="pt" cx="121.8" cy="300.07" r="0.85"/>
<circle class="pt" cx="117.42" cy="300.07" r="0.85"/>
<circle class="pt" cx="129.58" cy="300.18" r="0.85"/>
<circle class="pt" cx="119.47" cy="300.23" r="0.85"/>
<circle class="pt" cx="120.13" cy="300.08" r="0.85"/>
<circle class="pt" cx="126.19" cy="300.17" r="0.85"/>
<circle class="pt" cx="156.28" cy="300.41" r="0.85"/>
<circle class="pt" cx="125.39" cy="300.27" r="0.85"/>
<circle class="pt" cx="141.82" cy="300.22" r="0.85"/>
<circle class="pt" cx="125.86" cy="300.41" r="0.85"/>
<circle class="pt" cx="127.14" cy="300.14" r="0.85"/>
<circle class="pt" cx="118.85" cy="300.05" r="0.85"/>
<circle class="pt" cx="119.88" cy="300.03" r="0.85"/>
<circle class="pt" cx="145.34" cy="300.23" r="0.85"/>
<circle class="pt" cx="128.11" cy="300.57" r="0.85"/>
<circle class="pt" cx="122.78" cy="300.47" r="0.85"/>
<circle class="pt" cx="159.11" cy="300.61" r="0.85"/>
<circle class="pt" cx="151.93" cy="300.68" r="0.85"/>
<circle class="pt" cx="122.12" cy="300.04" r="0.85"/>
<circle class="pt" cx="128.32" cy="300.45" r="0.85"/>
<circle class="pt" cx="134.34" cy="300.11" r="0.85"/>
<circle class="pt" cx="119.43" cy="300.5" r="0.85"/>
<circle class="pt" cx="128.03" cy="300.37" r="0.85"/>
<circle class="pt" cx="122.74" cy="300.22" r="0.85"/>
<circle class="pt" cx="147.71" cy="300.41" r="0.85"/>
<circle class="pt" cx="117.99" cy="300.12" r="0.85"/>
<circle class="pt" cx="159.41" cy="300.75" r="0.85"/>
<circle class="pt" cx="121.25" cy="300.54" r="0.85"/>
<circle class="pt" cx="124.34" cy="301.17" r="0.85"/>
<circle class="pt" cx="117.69" cy="300.52" r="0.85"/>
<circle class="pt" cx="154.16" cy="300.57" r="0.85"/>
<circle class="pt" cx="148.8" cy="300.15" r="0.85"/>
<circle class="pt" cx="117.58" cy="300.6" r="0.85"/>
<circle class="pt" cx="132.49" cy="299.83" r="0.85"/>
<circle class="pt" cx="126.55" cy="300.07" r="0.85"/>
<circle class="pt" cx="136.3" cy="300.27" r="0.85"/>
<circle class="pt" cx="124.51" cy="300" r="0.85"/>
<circle class="pt" cx="157.03" cy="301" r="0.85"/>
<circle class="pt" cx="160.5" cy="300.4" r="0.95"/>
<circle class="pt" cx="164" cy="300.2" r="0.95"/>
<circle class="pt" cx="166" cy="301.2" r="0.95"/>
<circle class="pt" cx="172.5" cy="301.4" r="0.95"/>
<circle class="pt" cx="175" cy="301.8" r="0.95"/>
<circle class="pt" cx="184" cy="301.6" r="0.95"/>
<circle class="pt" cx="192" cy="301" r="0.95"/>
<circle class="pt" cx="198" cy="300.6" r="0.95"/>
<circle class="pt" cx="204" cy="299" r="0.95"/>
<circle class="pt" cx="209" cy="299.6" r="0.95"/>
<circle class="pt" cx="211.5" cy="300.4" r="0.95"/>
<circle class="pt" cx="213.6" cy="301" r="0.95"/>
<path class="dot" d="M17.5 289.4 H221.5"/>
<path class="sol" d="M25 295 L26.5 294.61 L28 294.22 L29.5 293.84 L31 293.46 L32.5 293.07 L34 292.69 L35.5 292.31 L37 291.93 L38.5 291.56 L40 291.2 L41.5 290.86 L43 290.57 L44.5 290.32 L46 290.09 L47.5 289.89 L49 289.71 L50.5 289.54 L52 289.38 L53.5 289.23 L55 289.07 L56.5 288.93 L58 288.78 L59.5 288.65 L61 288.51 L62.5 288.38 L64 288.24 L65.5 288.11 L67 287.98 L68.5 287.85 L70 287.72 L71.5 287.6 L73 287.48 L74.5 287.37 L76 287.26 L77.5 287.16 L79 287.06 L80.5 286.97 L82 286.89 L83.5 286.82 L85 286.76 L86.5 286.71 L88 286.67 L89.5 286.63 L91 286.61 L92.5 286.59 L94 286.58 L95.5 286.58 L97 286.58 L98.5 286.59 L100 286.6 L101.5 286.62 L103 286.63 L104.5 286.65 L106 286.68 L107.5 286.7 L109 286.73 L110.5 286.75 L112 286.79 L113.5 286.82 L115 286.86 L116.5 286.9 L118 286.94 L119.5 286.98 L121 287.03 L122.5 287.08 L124 287.14 L125.5 287.2 L127 287.26 L128.5 287.33 L130 287.4 L131.5 287.47 L133 287.55 L134.5 287.64 L136 287.72 L137.5 287.82 L139 287.92 L140.5 288.02 L142 288.14 L143.5 288.27 L145 288.4 L146.5 288.54 L148 288.69 L149.5 288.84 L151 288.99 L152.5 289.15 L154 289.31 L155.5 289.48 L157 289.65 L158.5 289.82 L160 290 L161.5 290.18 L163 290.36 L164.5 290.54 L166 290.72 L167.5 290.9 L169 291.08 L170.5 291.26 L172 291.44 L173.5 291.62 L175 291.8 L176.5 291.98 L178 292.16 L179.5 292.34 L181 292.52 L182.5 292.7 L184 292.88 L185.5 293.06 L187 293.24 L188.5 293.42 L190 293.6 L191.5 293.79 L193 293.98 L194.5 294.19 L196 294.4 L197.5 294.62 L199 294.85 L200.5 295.09 L202 295.33 L203.5 295.57 L205 295.83 L206.5 296.08 L208 296.34 L209.5 296.6 L211 296.87 L212.5 297.13 L214 297.4"/>
<path class="dsh" d="M25 286.6 L26.5 287.13 L28 287.61 L29.5 288.06 L31 288.48 L32.5 288.85 L34 289.11 L35.5 289.22 L37 289.18 L38.5 289.03 L40 288.8 L41.5 288.5 L43 288.17 L44.5 287.82 L46 287.48 L47.5 287.14 L49 286.81 L50.5 286.5 L52 286.19 L53.5 285.88 L55 285.59 L56.5 285.31 L58 285.06 L59.5 284.86 L61 284.69 L62.5 284.55 L64 284.41 L65.5 284.3 L67 284.19 L68.5 284.09 L70 284.01 L71.5 283.93 L73 283.86 L74.5 283.8 L76 283.74 L77.5 283.68 L79 283.63 L80.5 283.58 L82 283.54 L83.5 283.49 L85 283.44 L86.5 283.39 L88 283.35 L89.5 283.3 L91 283.25 L92.5 283.21 L94 283.16 L95.5 283.12 L97 283.08 L98.5 283.04 L100 283 L101.5 282.96 L103 282.92 L104.5 282.89 L106 282.85 L107.5 282.82 L109 282.78 L110.5 282.75 L112 282.72 L113.5 282.69 L115 282.67 L116.5 282.65 L118 282.62 L119.5 282.61 L121 282.59 L122.5 282.6 L124 282.61 L125.5 282.64 L127 282.68 L128.5 282.72 L130 282.76 L131.5 282.81 L133 282.86 L134.5 282.9 L136 282.94 L137.5 282.97 L139 282.99 L140.5 283 L142 283 L143.5 283 L145 282.99 L146.5 282.97 L148 282.96 L149.5 282.93 L151 282.9 L152.5 282.87 L154 282.83 L155.5 282.78 L157 282.74 L158.5 282.68 L160 282.62 L161.5 282.56 L163 282.48 L164.5 282.4 L166 282.31 L167.5 282.2 L169 282.08 L170.5 281.96 L172 281.82 L173.5 281.68 L175 281.54 L176.5 281.4 L178 281.26 L179.5 281.11 L181 280.96 L182.5 280.8 L184 280.65 L185.5 280.49 L187 280.33 L188.5 280.17 L190 280 L191.5 279.83 L193 279.67 L194.5 279.5 L196 279.33 L197.5 279.17 L199 279 L200.5 278.83 L202 278.66 L203.5 278.49 L205 278.31 L206.5 278.14 L208 277.96 L209.5 277.78 L211 277.6"/>
<path class="dsh" d="M25 302 L26.5 301.4 L28.01 300.82 L29.51 300.27 L31.02 299.74 L32.52 299.23 L34.02 298.73 L35.53 298.26 L37.03 297.8 L38.54 297.38 L40.04 296.99 L41.54 296.62 L43.05 296.27 L44.55 295.93 L46.06 295.61 L47.56 295.29 L49.07 294.99 L50.57 294.69 L52.07 294.4 L53.58 294.12 L55.08 293.84 L56.59 293.57 L58.09 293.32 L59.59 293.07 L61.1 292.83 L62.6 292.59 L64.11 292.37 L65.61 292.16 L67.11 291.96 L68.62 291.76 L70.12 291.58 L71.63 291.4 L73.13 291.24 L74.63 291.08 L76.14 290.93 L77.64 290.8 L79.15 290.67 L80.65 290.55 L82.15 290.44 L83.66 290.35 L85.16 290.26 L86.67 290.19 L88.17 290.13 L89.67 290.08 L91.18 290.04 L92.68 290.01 L94.19 289.99 L95.69 289.98 L97.2 289.98 L98.7 289.99 L100.2 290 L101.71 290.03 L103.21 290.06 L104.72 290.1 L106.22 290.15 L107.72 290.2 L109.23 290.27 L110.73 290.34 L112.24 290.42 L113.74 290.52 L115.24 290.62 L116.75 290.73 L118.25 290.85 L119.76 290.97 L121.26 291.1 L122.76 291.24 L124.27 291.39 L125.77 291.54 L127.28 291.7 L128.78 291.86 L130.28 292.03 L131.79 292.21 L133.29 292.39 L134.8 292.59 L136.3 292.79 L137.8 293 L139.31 293.21 L140.81 293.44 L142.32 293.67 L143.82 293.92 L145.33 294.17 L146.83 294.43 L148.33 294.69 L149.84 294.97 L151.34 295.26 L152.85 295.56 L154.35 295.88 L155.85 296.22 L157.36 296.57 L158.86 296.94 L160.37 297.32 L161.87 297.71 L163.37 298.12 L164.88 298.53 L166.38 298.95 L167.89 299.38 L169.39 299.82 L170.89 300.27 L172.4 300.72 L173.9 301.19 L175.41 301.68 L176.91 302.17 L178.41 302.68 L179.92 303.2 L181.42 303.73 L182.93 304.28 L184.43 304.83 L185.93 305.4 L187.44 305.98 L188.94 306.58 L190.45 307.18 L191.95 307.8 L193.46 308.44 L194.96 309.09 L196.46 309.76 L197.97 310.44 L199.47 311.14 L200.98 311.85 L202.48 312.57 L203.98 313.31 L205.49 314.07 L206.99 314.83 L208.5 315.61 L210 316.4"/>
<path class="box" d="M17.5 188.8 V323.3 M221.3 188.8 V323.3 M17.2 189.1 H221.6 M17.2 323.1 H221.6"/>
<text class="title" x="119.5" y="184.2">dia</text>
<path class="tick" d="M37.1 323 V325.1"/>
<text class="tl" x="37.1" y="332.3">0.03</text>
<path class="tick" d="M60.5 323 V325.1"/>
<text class="tl" x="60.5" y="332.3">0.84</text>
<path class="tick" d="M83.8 323 V325.1"/>
<text class="tl" x="83.8" y="332.3">2.4</text>
<path class="tick" d="M107.8 323 V325.1"/>
<text class="tl" x="107.8" y="332.3">4.9</text>
<path class="tick" d="M128.4 323 V325.1"/>
<text class="tl" x="128.4" y="332.3">6.2</text>
<path class="tick" d="M151.5 323 V325.1"/>
<text class="tl" x="151.5" y="332.3">6.6</text>
<path class="tick" d="M176.5 323 V325.1"/>
<text class="tl" x="176.5" y="332.3">7.1</text>
<path class="tick" d="M201.5 323 V325.1"/>
<text class="tl" x="201.5" y="332.3">7.6</text>
<path class="tick" d="M17.5 194.6 H15.1"/>
<text class="tl" transform="translate(12.9 194.6) rotate(-90)">8</text>
<path class="tick" d="M17.5 220.1 H15.1"/>
<text class="tl" transform="translate(12.9 220.1) rotate(-90)">6</text>
<path class="tick" d="M17.5 245.5 H15.1"/>
<text class="tl" transform="translate(12.9 245.5) rotate(-90)">4</text>
<path class="tick" d="M17.5 271 H15.1"/>
<text class="tl" transform="translate(12.9 271) rotate(-90)">2</text>
<path class="tick" d="M17.5 296.4 H15.1"/>
<text class="tl" transform="translate(12.9 296.4) rotate(-90)">0</text>
<path class="tick" d="M17.5 321.8 H15.1"/>
<text class="tl" transform="translate(12.9 321.8) rotate(-90)">-2</text>
<text class="al" x="119.8" y="343">Time (years)</text>
<text class="al yl" transform="translate(6.9 256.15) rotate(-90)">Beta(t)</text>
<text class="lt" x="17.5" y="343">d</text>
</g>
<g id="pe">
<path class="band" style="stroke-width:2" d="M256.6 199.6 L257.6 199.27 L258.61 198.95 L259.61 198.65 L260.62 198.36 L261.62 198.09 L262.63 197.85 L263.63 197.62 L264.64 197.38 L265.64 197.15 L266.65 196.92 L267.65 196.68 L268.66 196.44 L269.66 196.2 L270.67 195.96 L271.67 195.72 L272.68 195.48 L273.68 195.23 L274.68 194.97 L275.69 194.74 L276.69 194.61"/>
<circle class="pt" cx="279.5" cy="194.86" r="0.9"/>
<circle class="pt" cx="281.5" cy="194.61" r="0.9"/>
<circle class="pt" cx="283" cy="194.61" r="0.9"/>
<circle class="pt" cx="285" cy="194.49" r="0.9"/>
<circle class="pt" cx="286.5" cy="194.48" r="0.9"/>
<circle class="pt" cx="288" cy="194.76" r="0.9"/>
<circle class="pt" cx="289.5" cy="194.79" r="0.9"/>
<circle class="pt" cx="291" cy="194.75" r="0.9"/>
<circle class="pt" cx="293" cy="194.73" r="0.9"/>
<circle class="pt" cx="295" cy="194.61" r="0.9"/>
<circle class="pt" cx="297" cy="194.75" r="0.9"/>
<circle class="pt" cx="301" cy="194.47" r="0.9"/>
<circle class="pt" cx="304" cy="194.69" r="0.9"/>
<circle class="pt" cx="306" cy="194.91" r="0.9"/>
<circle class="pt" cx="311" cy="194.89" r="0.9"/>
<circle class="pt" cx="313.5" cy="194.62" r="0.9"/>
<circle class="pt" cx="319" cy="194.64" r="0.9"/>
<circle class="pt" cx="321" cy="194.9" r="0.9"/>
<circle class="pt" cx="322.5" cy="194.96" r="0.9"/>
<circle class="pt" cx="324" cy="194.47" r="0.9"/>
<circle class="pt" cx="325.5" cy="194.63" r="0.9"/>
<circle class="pt" cx="329" cy="194.73" r="0.9"/>
<circle class="pt" cx="330.5" cy="194.88" r="0.9"/>
<circle class="pt" cx="332" cy="194.57" r="0.9"/>
<circle class="pt" cx="333.5" cy="194.79" r="0.9"/>
<circle class="pt" cx="335" cy="194.65" r="0.9"/>
<circle class="pt" cx="337.5" cy="195.05" r="0.9"/>
<circle class="pt" cx="339.5" cy="194.76" r="0.9"/>
<circle class="pt" cx="341.5" cy="194.67" r="0.9"/>
<circle class="pt" cx="348.5" cy="195" r="1"/>
<circle class="pt" cx="360.4" cy="195.4" r="1"/>
<circle class="pt" cx="375" cy="194.8" r="1"/>
<circle class="pt" cx="387.4" cy="194" r="1"/>
<circle class="pt" cx="422.4" cy="196.6" r="1"/>
<path class="band" style="stroke-width:2.05" d="M256.6 307.6 L257.6 307.3 L258.61 307.01 L259.61 306.71 L260.61 306.41 L261.61 306.11 L262.62 305.82 L263.62 305.52 L264.62 305.22 L265.63 304.91 L266.63 304.61 L267.63 304.31 L268.63 304.01 L269.64 303.72 L270.64 303.44 L271.64 303.18 L272.65 302.94 L273.65 302.73 L274.65 302.55 L275.66 302.41 L276.66 302.31 L277.66 302.23 L278.66 302.18 L279.67 302.14 L280.67 302.12 L281.67 302.1 L282.68 302.09 L283.68 302.08 L284.68 302.07 L285.68 302.06 L286.69 302.04 L287.69 302.03 L288.69 302.02 L289.7 302.02 L290.7 302.01 L291.7 302 L292.7 302 L293.71 302 L294.71 302 L295.71 302 L296.72 301.99 L297.72 301.99 L298.72 301.99 L299.72 301.99 L300.73 301.99 L301.73 301.98 L302.73 301.98 L303.74 301.98 L304.74 301.98 L305.74 301.98 L306.74 301.98 L307.75 301.98 L308.75 301.98 L309.75 301.97 L310.76 301.98 L311.76 301.98 L312.76 301.98 L313.77 301.98 L314.77 301.98 L315.77 301.98 L316.77 301.99 L317.78 301.99 L318.78 301.99 L319.78 302 L320.79 302 L321.79 302.01 L322.79 302.02 L323.79 302.02 L324.8 302.03 L325.8 302.04 L326.8 302.05 L327.81 302.06 L328.81 302.07 L329.81 302.07 L330.81 302.08 L331.82 302.09 L332.82 302.1 L333.82 302.11 L334.83 302.12 L335.83 302.13 L336.83 302.14 L337.83 302.15 L338.84 302.15 L339.84 302.16 L340.84 302.17 L341.85 302.18 L342.85 302.19 L343.85 302.19 L344.86 302.2 L345.86 302.2 L346.86 302.21 L347.86 302.22 L348.87 302.22 L349.87 302.22 L350.87 302.23 L351.88 302.23 L352.88 302.23 L353.88 302.24 L354.88 302.24 L355.89 302.24 L356.89 302.25 L357.89 302.25 L358.9 302.25 L359.9 302.25 L360.9 302.26 L361.9 302.26 L362.91 302.26 L363.91 302.27 L364.91 302.27 L365.92 302.28 L366.92 302.28 L367.92 302.29 L368.92 302.29 L369.93 302.3 L370.93 302.31 L371.93 302.31"/>
<circle class="pt" cx="385.1" cy="302.6" r="0.95"/>
<circle class="pt" cx="375.42" cy="302.28" r="0.95"/>
<circle class="pt" cx="382.8" cy="302.19" r="0.95"/>
<circle class="pt" cx="376.07" cy="302.5" r="0.95"/>
<circle class="pt" cx="381.72" cy="301.99" r="0.95"/>
<circle class="pt" cx="377.09" cy="301.96" r="0.95"/>
<circle class="pt" cx="389.35" cy="302.65" r="0.95"/>
<circle class="pt" cx="377.73" cy="302.49" r="0.95"/>
<circle class="pt" cx="386.34" cy="302.66" r="0.95"/>
<circle class="pt" cx="380.28" cy="302.34" r="0.95"/>
<circle class="pt" cx="376.12" cy="302.09" r="0.95"/>
<circle class="pt" cx="390.95" cy="302.43" r="0.95"/>
<circle class="pt" cx="395" cy="302.6" r="0.95"/>
<circle class="pt" cx="397" cy="302.9" r="0.95"/>
<circle class="pt" cx="399" cy="303" r="0.95"/>
<circle class="pt" cx="406" cy="304" r="0.95"/>
<circle class="pt" cx="408" cy="304.3" r="0.95"/>
<circle class="pt" cx="414" cy="305" r="0.95"/>
<circle class="pt" cx="423" cy="304" r="0.95"/>
<circle class="pt" cx="425" cy="304.2" r="0.95"/>
<circle class="pt" cx="431" cy="304" r="0.95"/>
<circle class="pt" cx="436" cy="303.6" r="0.95"/>
<circle class="pt" cx="442" cy="304" r="0.95"/>
<circle class="pt" cx="443.5" cy="304.6" r="0.95"/>
<circle class="pt" cx="445" cy="297.2" r="0.95"/>
<path class="dot" d="M249.5 292.4 H452.5"/>
<path class="sol" d="M257 263.6 L258.51 265.49 L260.02 267.36 L261.53 269.21 L263.04 271.04 L264.54 272.87 L266.05 274.66 L267.56 276.4 L269.07 278.08 L270.58 279.65 L272.09 281.11 L273.6 282.52 L275.11 283.9 L276.61 285.26 L278.12 286.59 L279.63 287.88 L281.14 289.11 L282.65 290.27 L284.16 291.35 L285.67 292.36 L287.18 293.31 L288.68 294.2 L290.19 295.02 L291.7 295.78 L293.21 296.5 L294.72 297.16 L296.23 297.75 L297.74 298.25 L299.25 298.66 L300.76 298.99 L302.26 299.25 L303.77 299.44 L305.28 299.57 L306.79 299.63 L308.3 299.67 L309.81 299.68 L311.32 299.67 L312.83 299.61 L314.33 299.52 L315.84 299.42 L317.35 299.31 L318.86 299.2 L320.37 299.06 L321.88 298.91 L323.39 298.73 L324.9 298.54 L326.4 298.36 L327.91 298.19 L329.42 298.07 L330.93 297.95 L332.44 297.84 L333.95 297.73 L335.46 297.61 L336.97 297.5 L338.48 297.39 L339.98 297.28 L341.49 297.16 L343 297.05 L344.51 296.94 L346.02 296.82 L347.53 296.71 L349.04 296.59 L350.55 296.47 L352.05 296.36 L353.56 296.24 L355.07 296.12 L356.58 296.01 L358.09 295.89 L359.6 295.78 L361.11 295.69 L362.62 295.6 L364.12 295.53 L365.63 295.46 L367.14 295.41 L368.65 295.36 L370.16 295.33 L371.67 295.3 L373.18 295.29 L374.69 295.29 L376.2 295.29 L377.7 295.31 L379.21 295.34 L380.72 295.38 L382.23 295.43 L383.74 295.49 L385.25 295.56 L386.76 295.64 L388.27 295.73 L389.77 295.81 L391.28 295.9 L392.79 295.98 L394.3 296.07 L395.81 296.16 L397.32 296.24 L398.83 296.33 L400.34 296.42 L401.84 296.51 L403.35 296.6 L404.86 296.69 L406.37 296.78 L407.88 296.87 L409.39 296.96 L410.9 297.05 L412.41 297.14 L413.92 297.23 L415.42 297.33 L416.93 297.42 L418.44 297.53 L419.95 297.64 L421.46 297.76 L422.97 297.88 L424.48 298 L425.99 298.13 L427.49 298.27 L429 298.41 L430.51 298.55 L432.02 298.7 L433.53 298.86 L435.04 299.03 L436.55 299.2 L438.06 299.39 L439.56 299.58 L441.07 299.77 L442.58 299.98 L444.09 300.19 L445.6 300.4"/>
<path class="dsh" d="M257 257 L258.5 259.17 L260 261.29 L261.5 263.36 L263 265.4 L264.5 267.4 L266 269.34 L267.5 271.21 L269 273 L270.5 274.7 L272 276.33 L273.5 277.89 L275 279.4 L276.5 280.87 L278 282.3 L279.5 283.67 L281 285 L282.5 286.26 L284 287.45 L285.5 288.56 L287 289.6 L288.5 290.56 L290 291.43 L291.5 292.24 L293 293 L294.5 293.71 L296 294.36 L297.5 294.93 L299 295.4 L300.5 295.77 L302 296.05 L303.5 296.26 L305 296.4 L306.5 296.5 L308 296.57 L309.5 296.63 L311 296.64 L312.5 296.62 L314 296.55 L315.5 296.47 L317 296.37 L318.5 296.25 L320 296.11 L321.5 295.94 L323 295.75 L324.5 295.54 L326 295.33 L327.5 295.1 L329 294.88 L330.5 294.66 L332 294.44 L333.5 294.23 L335 294.03 L336.5 293.86 L338 293.69 L339.5 293.54 L341 293.38 L342.5 293.23 L344 293.09 L345.5 292.96 L347 292.83 L348.5 292.71 L350 292.6 L351.5 292.5 L353 292.4 L354.5 292.3 L356 292.21 L357.5 292.13 L359 292.05 L360.5 291.98 L362 291.91 L363.5 291.85 L365 291.79 L366.5 291.74 L368 291.69 L369.5 291.63 L371 291.58 L372.5 291.52 L374 291.45 L375.5 291.37 L377 291.29 L378.5 291.2 L380 291.11 L381.5 291.02 L383 290.91 L384.5 290.81 L386 290.7 L387.5 290.59 L389 290.48 L390.5 290.36 L392 290.24 L393.5 290.12 L395 289.99 L396.5 289.86 L398 289.73 L399.5 289.58 L401 289.43 L402.5 289.28 L404 289.11 L405.5 288.94 L407 288.76 L408.5 288.58 L410 288.39 L411.5 288.19 L413 287.99 L414.5 287.79 L416 287.58 L417.5 287.36 L419 287.15 L420.5 286.93 L422 286.71 L423.5 286.48 L425 286.26 L426.5 286.04 L428 285.81 L429.5 285.59 L431 285.36 L432.5 285.13 L434 284.9 L435.5 284.67 L437 284.44 L438.5 284.2 L440 283.97 L441.5 283.73 L443 283.49 L444.5 283.24 L446 283"/>
<path class="dsh" d="M257 270 L258.5 271.76 L260.01 273.48 L261.51 275.16 L263.02 276.82 L264.52 278.44 L266.02 280.01 L267.53 281.54 L269.03 283.03 L270.54 284.47 L272.04 285.84 L273.54 287.17 L275.05 288.44 L276.55 289.67 L278.06 290.84 L279.56 291.96 L281.07 293.05 L282.57 294.08 L284.07 295.06 L285.58 295.98 L287.08 296.85 L288.59 297.64 L290.09 298.37 L291.59 299.03 L293.1 299.64 L294.6 300.18 L296.11 300.61 L297.61 300.9 L299.11 301.14 L300.62 301.33 L302.12 301.47 L303.63 301.57 L305.13 301.6 L306.63 301.61 L308.14 301.61 L309.64 301.61 L311.15 301.61 L312.65 301.6 L314.15 301.59 L315.66 301.58 L317.16 301.57 L318.67 301.55 L320.17 301.52 L321.67 301.48 L323.18 301.42 L324.68 301.35 L326.19 301.26 L327.69 301.17 L329.2 301.07 L330.7 300.96 L332.2 300.86 L333.71 300.77 L335.21 300.68 L336.72 300.61 L338.22 300.55 L339.72 300.5 L341.23 300.44 L342.73 300.4 L344.24 300.35 L345.74 300.31 L347.24 300.27 L348.75 300.23 L350.25 300.19 L351.76 300.15 L353.26 300.11 L354.76 300.08 L356.27 300.07 L357.77 300.07 L359.28 300.11 L360.78 300.19 L362.28 300.3 L363.79 300.43 L365.29 300.57 L366.8 300.71 L368.3 300.85 L369.8 300.98 L371.31 301.1 L372.81 301.23 L374.32 301.35 L375.82 301.47 L377.33 301.59 L378.83 301.71 L380.33 301.83 L381.84 301.95 L383.34 302.07 L384.85 302.19 L386.35 302.31 L387.85 302.43 L389.36 302.55 L390.86 302.68 L392.37 302.84 L393.87 303.04 L395.37 303.26 L396.88 303.49 L398.38 303.74 L399.89 303.98 L401.39 304.23 L402.89 304.48 L404.4 304.76 L405.9 305.06 L407.41 305.38 L408.91 305.73 L410.41 306.11 L411.92 306.52 L413.42 306.96 L414.93 307.43 L416.43 307.93 L417.93 308.45 L419.44 308.99 L420.94 309.55 L422.45 310.13 L423.95 310.7 L425.46 311.28 L426.96 311.86 L428.46 312.43 L429.97 312.99 L431.47 313.54 L432.98 314.1 L434.48 314.65 L435.98 315.21 L437.49 315.76 L438.99 316.31 L440.5 316.86 L442 317.4"/>
<path class="box" d="M249.5 188.8 V323.3 M452.5 188.8 V323.3 M249.2 189.1 H452.8 M249.2 323.1 H452.8"/>
<text class="title" x="351" y="184.2">vf</text>
<path class="tick" d="M269.1 323 V325.1"/>
<text class="tl" x="269.1" y="332.3">0.03</text>
<path class="tick" d="M292.5 323 V325.1"/>
<text class="tl" x="292.5" y="332.3">0.84</text>
<path class="tick" d="M315.8 323 V325.1"/>
<text class="tl" x="315.8" y="332.3">2.4</text>
<path class="tick" d="M339.8 323 V325.1"/>
<text class="tl" x="339.8" y="332.3">4.9</text>
<path class="tick" d="M360.4 323 V325.1"/>
<text class="tl" x="360.4" y="332.3">6.2</text>
<path class="tick" d="M383.5 323 V325.1"/>
<text class="tl" x="383.5" y="332.3">6.6</text>
<path class="tick" d="M408.5 323 V325.1"/>
<text class="tl" x="408.5" y="332.3">7.1</text>
<path class="tick" d="M433.5 323 V325.1"/>
<text class="tl" x="433.5" y="332.3">7.6</text>
<path class="tick" d="M249.5 206.4 H247.1"/>
<text class="tl" transform="translate(244.9 206.4) rotate(-90)">10</text>
<path class="tick" d="M249.5 225 H247.1"/>
<text class="tl" transform="translate(244.9 225) rotate(-90)">8</text>
<path class="tick" d="M249.5 243.4 H247.1"/>
<text class="tl" transform="translate(244.9 243.4) rotate(-90)">6</text>
<path class="tick" d="M249.5 262 H247.1"/>
<text class="tl" transform="translate(244.9 262) rotate(-90)">4</text>
<path class="tick" d="M249.5 280.5 H247.1"/>
<text class="tl" transform="translate(244.9 280.5) rotate(-90)">2</text>
<path class="tick" d="M249.5 299.2 H247.1"/>
<text class="tl" transform="translate(244.9 299.2) rotate(-90)">0</text>
<path class="tick" d="M249.5 317.6 H247.1"/>
<text class="tl" transform="translate(244.9 317.6) rotate(-90)">-2</text>
<text class="al" x="351.3" y="343">Time (years)</text>
<text class="al yl" transform="translate(238.9 256.15) rotate(-90)">Beta(t)</text>
<text class="lt" x="249.5" y="343">e</text>
</g>
</svg>
</body>
</html>
